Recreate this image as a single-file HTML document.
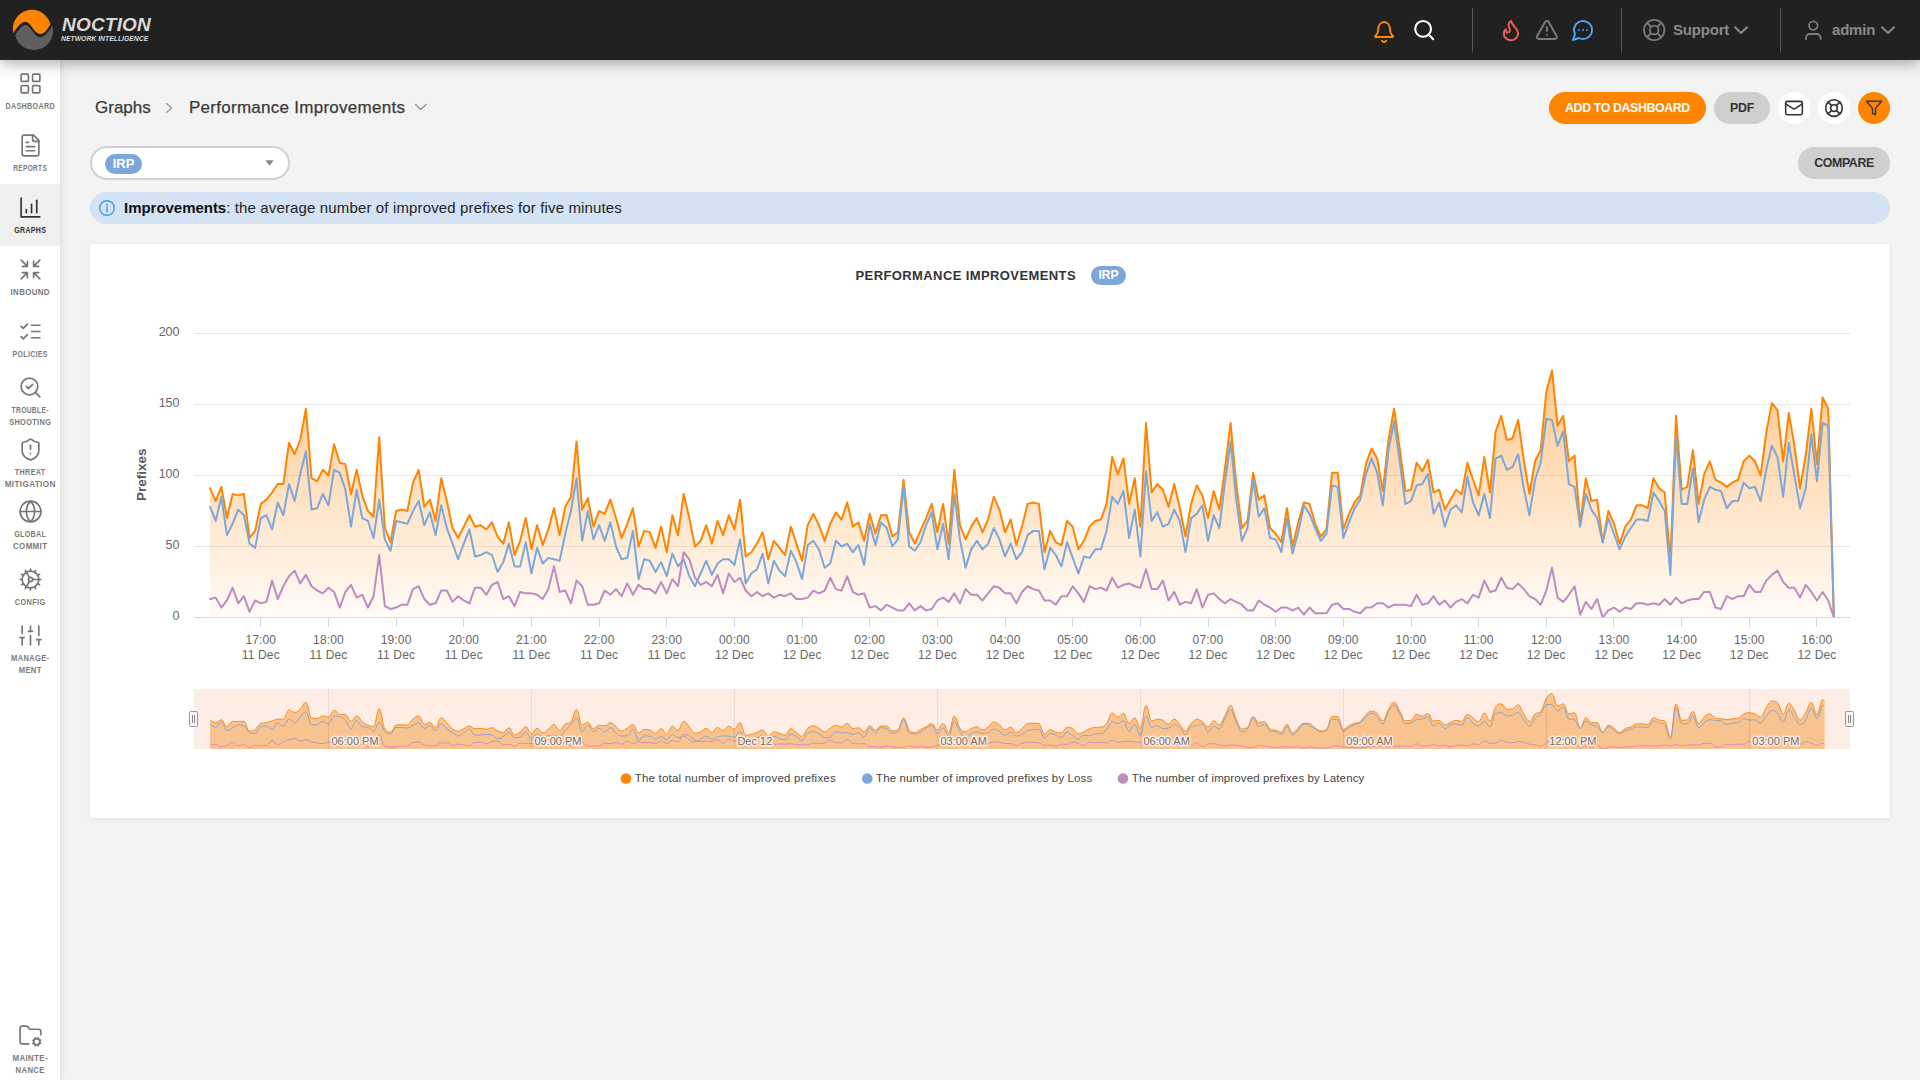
<!DOCTYPE html>
<html lang="en">
<head>
<meta charset="utf-8">
<title>Performance Improvements</title>
<style>
*{box-sizing:border-box;margin:0;padding:0}
html,body{width:1920px;height:1080px;overflow:hidden}
body{background:#f3f3f3;font-family:"Liberation Sans",sans-serif;color:#333;position:relative}
.abs{position:absolute}
#header{position:absolute;left:0;top:0;width:1920px;height:60px;background:#212121;box-shadow:0 3px 14px rgba(0,0,0,.34);z-index:5}
#sidebar{position:absolute;left:0;top:60px;width:60px;height:1020px;background:#fff;box-shadow:1px 0 6px rgba(0,0,0,.10);z-index:3}
.logo1{position:absolute;left:62px;top:14.2px;font:italic bold 19px "Liberation Sans",sans-serif;color:#d9d9d9;letter-spacing:.2px;white-space:nowrap;line-height:22px}
.logo2{position:absolute;left:61px;top:33.9px;font:italic bold 6.8px "Liberation Sans",sans-serif;color:#dcdcdc;letter-spacing:.02px;white-space:nowrap;line-height:9px}
.htxt{position:absolute;top:20px;font:bold 15px "Liberation Sans",sans-serif;letter-spacing:-.2px;color:#8a8a8a;line-height:20px;white-space:nowrap}
.nav{position:absolute;left:0;width:60px;height:62px}
.nav.act{background:#f0f0f0}
.nav svg{position:absolute;left:17.5px;width:25px;height:25px;fill:none;stroke:#767676;stroke-width:1.6;stroke-linecap:round;stroke-linejoin:round}
.nav.one svg{top:10.5px}
.nav.two svg{top:4.5px}
.nav.act svg{stroke:#333}
.nav .lb{position:absolute;left:-10px;width:80px;text-align:center;font:bold 8.6px "Liberation Sans",sans-serif;color:#7a7a7a;letter-spacing:.4px;line-height:12px;white-space:nowrap}
.nav .lb span{display:block;margin-right:-.4px}
.nav.one .lb{top:40px}
.nav.two .lb{top:34px}
.nav.act .lb{color:#333}
.bc{position:absolute;top:97px;font:17px "Liberation Sans",sans-serif;color:#3a3a3a;-webkit-text-stroke:.25px #3a3a3a;line-height:22px;white-space:nowrap}
.btn{position:absolute;height:32px;border-radius:16px;font:bold 12.4px "Liberation Sans",sans-serif;text-align:center;line-height:32px;white-space:nowrap}
.circ{position:absolute;width:32px;height:32px;border-radius:16px;top:92px}
#sel{position:absolute;left:90px;top:146px;width:200px;height:34px;border:2px solid #d0d0d0;border-radius:17px;background:#fff}
.badge{position:absolute;background:#7da7d9;color:#fff;font:bold 13px "Liberation Sans",sans-serif;text-align:center;border-radius:10px;white-space:nowrap}
#info{position:absolute;left:90px;top:192px;width:1800px;height:32px;border-radius:16px;background:#d3e3f3}
#info .t{position:absolute;left:34px;top:6px;font:15px "Liberation Sans",sans-serif;color:#222;line-height:20px;white-space:nowrap;letter-spacing:.14px}
#info .t b{color:#111;letter-spacing:-.03px}
#card{position:absolute;left:90px;top:244px;width:1800px;height:574px;background:#fff;border-radius:2px;box-shadow:0 1px 4px rgba(0,0,0,.09)}
#ctitle{position:absolute;left:855.5px;top:267.4px;font:bold 13px "Liberation Sans",sans-serif;color:#333;line-height:18px;white-space:nowrap;letter-spacing:.4px}
svg.chart{position:absolute;left:0;top:0;z-index:2}
svg.chart text{font-family:"Liberation Sans",sans-serif}
.xl{font-size:12px;fill:#666;text-anchor:middle;letter-spacing:.15px}
.yl{font-size:12.5px;fill:#666;text-anchor:end}
.yt{font-size:13.5px;font-weight:bold;fill:#585858;text-anchor:middle}
.nl{font-size:11px;fill:#7a6a62}
.lg{font-size:11.5px;fill:#444;letter-spacing:.2px}
</style>
</head>
<body>

<div id="card"></div>
<div id="ctitle">PERFORMANCE IMPROVEMENTS</div>
<div class="badge" style="left:1091px;top:266px;width:35px;height:19px;line-height:19px;font-size:12px;border-radius:9.5px">IRP</div>

<svg class="chart" width="1920" height="1080" viewBox="0 0 1920 1080">
<defs><linearGradient id="ga" gradientUnits="userSpaceOnUse" x1="0" y1="370" x2="0" y2="617.5"><stop offset="0" stop-color="#ff8400" stop-opacity="0.45"/><stop offset="1" stop-color="#ff8400" stop-opacity="0.03"/></linearGradient>
<clipPath id="pc"><rect x="194" y="330" width="1656" height="287.5"/></clipPath><clipPath id="nc"><rect x="194" y="689" width="1656" height="60"/></clipPath></defs>
<path d="M194 333.5 H1850" stroke="#e6e6e6" stroke-width="1" fill="none"/>
<path d="M194 404.5 H1850" stroke="#e6e6e6" stroke-width="1" fill="none"/>
<path d="M194 475.5 H1850" stroke="#e6e6e6" stroke-width="1" fill="none"/>
<path d="M194 546.5 H1850" stroke="#e6e6e6" stroke-width="1" fill="none"/>
<g clip-path="url(#pc)">
<path d="M210.05 488.28 L215.69 501.06 L221.33 486.86 L226.96 518.10 L232.60 493.96 L238.24 495.38 L243.88 493.96 L249.52 537.98 L255.16 530.88 L260.79 503.90 L266.43 499.64 L272.07 492.54 L277.71 484.02 L283.35 484.02 L288.99 442.84 L294.62 454.20 L300.26 440.00 L305.90 408.76 L311.54 478.34 L317.18 481.18 L322.82 469.82 L328.45 475.50 L334.09 444.26 L339.73 462.72 L345.37 464.14 L351.01 493.96 L356.65 469.82 L362.28 495.38 L367.92 511.00 L373.56 516.68 L379.20 437.16 L384.84 528.04 L390.48 542.24 L396.11 511.00 L401.75 509.58 L407.39 511.00 L413.03 482.60 L418.67 469.82 L424.31 506.74 L429.94 499.64 L435.58 520.94 L441.22 478.34 L446.86 501.06 L452.50 528.04 L458.14 537.98 L463.77 526.62 L469.41 515.26 L475.05 526.62 L480.69 525.20 L486.33 529.46 L491.97 522.36 L497.60 536.56 L503.24 543.66 L508.88 522.36 L514.52 555.02 L520.16 540.82 L525.79 518.10 L531.43 549.34 L537.07 525.20 L542.71 545.08 L548.35 529.46 L553.99 508.16 L559.62 535.14 L565.26 506.74 L570.90 496.80 L576.54 441.42 L582.18 509.58 L587.82 498.22 L593.45 526.62 L599.09 511.00 L604.73 513.84 L610.37 499.64 L616.01 518.10 L621.65 537.98 L627.28 523.78 L632.92 508.16 L638.56 546.50 L644.20 530.88 L649.84 532.30 L655.48 547.92 L661.11 526.62 L666.75 552.18 L672.39 515.26 L678.03 535.14 L683.67 493.96 L689.31 518.10 L694.94 546.50 L700.58 540.82 L706.22 525.20 L711.86 543.66 L717.50 520.94 L723.14 535.14 L728.77 515.26 L734.41 529.46 L740.05 499.64 L745.69 556.44 L751.33 552.18 L756.97 543.66 L762.60 532.30 L768.24 559.28 L773.88 540.82 L779.52 547.92 L785.16 555.02 L790.79 526.62 L796.43 543.66 L802.07 560.70 L807.71 525.20 L813.35 513.84 L818.99 525.20 L824.62 540.82 L830.26 523.78 L835.90 512.42 L841.54 519.52 L847.18 502.48 L852.82 526.62 L858.45 522.36 L864.09 540.82 L869.73 513.84 L875.37 533.72 L881.01 515.26 L886.65 515.26 L892.28 536.56 L897.92 532.30 L903.56 479.76 L909.20 532.30 L914.84 543.66 L920.48 530.88 L926.11 518.10 L931.75 503.90 L937.39 532.30 L943.03 503.90 L948.67 543.66 L954.31 469.82 L959.94 525.20 L965.58 539.40 L971.22 526.62 L976.86 518.10 L982.50 532.30 L988.14 519.52 L993.77 496.80 L999.41 509.58 L1005.05 532.30 L1010.69 519.52 L1016.33 545.08 L1021.97 526.62 L1027.60 503.90 L1033.24 502.48 L1038.88 503.90 L1044.52 552.18 L1050.16 530.88 L1055.80 542.24 L1061.43 545.08 L1067.07 520.94 L1072.71 526.62 L1078.35 549.34 L1083.99 540.82 L1089.62 526.62 L1095.26 520.94 L1100.90 519.52 L1106.54 503.90 L1112.18 457.04 L1117.82 474.08 L1123.45 458.46 L1129.09 503.90 L1134.73 478.34 L1140.37 526.62 L1146.01 422.96 L1151.65 492.54 L1157.28 484.02 L1162.92 489.70 L1168.56 506.74 L1174.20 484.02 L1179.84 508.16 L1185.48 536.56 L1191.11 503.90 L1196.75 485.44 L1202.39 495.38 L1208.03 518.10 L1213.67 491.12 L1219.31 509.58 L1224.94 468.40 L1230.58 422.96 L1236.22 484.02 L1241.86 528.04 L1247.50 520.94 L1253.14 472.66 L1258.77 499.64 L1264.41 495.38 L1270.05 528.04 L1275.69 533.72 L1281.33 542.24 L1286.97 508.16 L1292.60 546.50 L1298.24 522.36 L1303.88 502.48 L1309.52 503.90 L1315.16 523.78 L1320.80 536.56 L1326.43 529.46 L1332.07 472.66 L1337.71 472.66 L1343.35 529.46 L1348.99 513.84 L1354.62 502.48 L1360.26 495.38 L1365.90 464.14 L1371.54 448.52 L1377.18 458.46 L1382.82 491.12 L1388.45 440.00 L1394.09 408.76 L1399.73 448.52 L1405.37 491.12 L1411.01 489.70 L1416.65 462.72 L1422.28 471.24 L1427.92 459.88 L1433.56 492.54 L1439.20 489.70 L1444.84 509.58 L1450.48 499.64 L1456.11 489.70 L1461.75 493.96 L1467.39 462.72 L1473.03 479.76 L1478.67 495.38 L1484.31 457.04 L1489.94 492.54 L1495.58 431.48 L1501.22 415.86 L1506.86 440.00 L1512.50 438.58 L1518.14 420.12 L1523.77 459.88 L1529.41 493.96 L1535.05 461.30 L1540.69 449.94 L1546.33 391.72 L1551.97 370.42 L1557.60 425.80 L1563.24 415.86 L1568.88 461.30 L1574.52 455.62 L1580.16 523.78 L1585.80 478.34 L1591.43 501.06 L1597.07 499.64 L1602.71 542.24 L1608.35 511.00 L1613.99 523.78 L1619.62 543.66 L1625.26 526.62 L1630.90 519.52 L1636.54 505.32 L1642.18 505.32 L1647.82 508.16 L1653.45 478.34 L1659.09 488.28 L1664.73 492.54 L1670.37 562.12 L1676.01 415.86 L1681.65 489.70 L1687.28 486.86 L1692.92 449.94 L1698.56 503.90 L1704.20 474.08 L1709.84 461.30 L1715.48 479.76 L1721.11 482.60 L1726.75 486.86 L1732.39 482.60 L1738.03 479.76 L1743.67 461.30 L1749.31 455.62 L1754.94 461.30 L1760.58 475.50 L1766.22 432.90 L1771.86 403.08 L1777.50 410.18 L1783.14 461.30 L1788.77 413.02 L1794.41 445.68 L1800.05 488.28 L1805.69 455.62 L1811.33 408.76 L1816.97 464.14 L1822.60 397.40 L1828.24 408.76 L1833.88 617.50 L1833.88 617.5 L210.05 617.5 Z" fill="url(#ga)" stroke="none"/>
<path d="M210.05 488.28 L215.69 501.06 L221.33 486.86 L226.96 518.10 L232.60 493.96 L238.24 495.38 L243.88 493.96 L249.52 537.98 L255.16 530.88 L260.79 503.90 L266.43 499.64 L272.07 492.54 L277.71 484.02 L283.35 484.02 L288.99 442.84 L294.62 454.20 L300.26 440.00 L305.90 408.76 L311.54 478.34 L317.18 481.18 L322.82 469.82 L328.45 475.50 L334.09 444.26 L339.73 462.72 L345.37 464.14 L351.01 493.96 L356.65 469.82 L362.28 495.38 L367.92 511.00 L373.56 516.68 L379.20 437.16 L384.84 528.04 L390.48 542.24 L396.11 511.00 L401.75 509.58 L407.39 511.00 L413.03 482.60 L418.67 469.82 L424.31 506.74 L429.94 499.64 L435.58 520.94 L441.22 478.34 L446.86 501.06 L452.50 528.04 L458.14 537.98 L463.77 526.62 L469.41 515.26 L475.05 526.62 L480.69 525.20 L486.33 529.46 L491.97 522.36 L497.60 536.56 L503.24 543.66 L508.88 522.36 L514.52 555.02 L520.16 540.82 L525.79 518.10 L531.43 549.34 L537.07 525.20 L542.71 545.08 L548.35 529.46 L553.99 508.16 L559.62 535.14 L565.26 506.74 L570.90 496.80 L576.54 441.42 L582.18 509.58 L587.82 498.22 L593.45 526.62 L599.09 511.00 L604.73 513.84 L610.37 499.64 L616.01 518.10 L621.65 537.98 L627.28 523.78 L632.92 508.16 L638.56 546.50 L644.20 530.88 L649.84 532.30 L655.48 547.92 L661.11 526.62 L666.75 552.18 L672.39 515.26 L678.03 535.14 L683.67 493.96 L689.31 518.10 L694.94 546.50 L700.58 540.82 L706.22 525.20 L711.86 543.66 L717.50 520.94 L723.14 535.14 L728.77 515.26 L734.41 529.46 L740.05 499.64 L745.69 556.44 L751.33 552.18 L756.97 543.66 L762.60 532.30 L768.24 559.28 L773.88 540.82 L779.52 547.92 L785.16 555.02 L790.79 526.62 L796.43 543.66 L802.07 560.70 L807.71 525.20 L813.35 513.84 L818.99 525.20 L824.62 540.82 L830.26 523.78 L835.90 512.42 L841.54 519.52 L847.18 502.48 L852.82 526.62 L858.45 522.36 L864.09 540.82 L869.73 513.84 L875.37 533.72 L881.01 515.26 L886.65 515.26 L892.28 536.56 L897.92 532.30 L903.56 479.76 L909.20 532.30 L914.84 543.66 L920.48 530.88 L926.11 518.10 L931.75 503.90 L937.39 532.30 L943.03 503.90 L948.67 543.66 L954.31 469.82 L959.94 525.20 L965.58 539.40 L971.22 526.62 L976.86 518.10 L982.50 532.30 L988.14 519.52 L993.77 496.80 L999.41 509.58 L1005.05 532.30 L1010.69 519.52 L1016.33 545.08 L1021.97 526.62 L1027.60 503.90 L1033.24 502.48 L1038.88 503.90 L1044.52 552.18 L1050.16 530.88 L1055.80 542.24 L1061.43 545.08 L1067.07 520.94 L1072.71 526.62 L1078.35 549.34 L1083.99 540.82 L1089.62 526.62 L1095.26 520.94 L1100.90 519.52 L1106.54 503.90 L1112.18 457.04 L1117.82 474.08 L1123.45 458.46 L1129.09 503.90 L1134.73 478.34 L1140.37 526.62 L1146.01 422.96 L1151.65 492.54 L1157.28 484.02 L1162.92 489.70 L1168.56 506.74 L1174.20 484.02 L1179.84 508.16 L1185.48 536.56 L1191.11 503.90 L1196.75 485.44 L1202.39 495.38 L1208.03 518.10 L1213.67 491.12 L1219.31 509.58 L1224.94 468.40 L1230.58 422.96 L1236.22 484.02 L1241.86 528.04 L1247.50 520.94 L1253.14 472.66 L1258.77 499.64 L1264.41 495.38 L1270.05 528.04 L1275.69 533.72 L1281.33 542.24 L1286.97 508.16 L1292.60 546.50 L1298.24 522.36 L1303.88 502.48 L1309.52 503.90 L1315.16 523.78 L1320.80 536.56 L1326.43 529.46 L1332.07 472.66 L1337.71 472.66 L1343.35 529.46 L1348.99 513.84 L1354.62 502.48 L1360.26 495.38 L1365.90 464.14 L1371.54 448.52 L1377.18 458.46 L1382.82 491.12 L1388.45 440.00 L1394.09 408.76 L1399.73 448.52 L1405.37 491.12 L1411.01 489.70 L1416.65 462.72 L1422.28 471.24 L1427.92 459.88 L1433.56 492.54 L1439.20 489.70 L1444.84 509.58 L1450.48 499.64 L1456.11 489.70 L1461.75 493.96 L1467.39 462.72 L1473.03 479.76 L1478.67 495.38 L1484.31 457.04 L1489.94 492.54 L1495.58 431.48 L1501.22 415.86 L1506.86 440.00 L1512.50 438.58 L1518.14 420.12 L1523.77 459.88 L1529.41 493.96 L1535.05 461.30 L1540.69 449.94 L1546.33 391.72 L1551.97 370.42 L1557.60 425.80 L1563.24 415.86 L1568.88 461.30 L1574.52 455.62 L1580.16 523.78 L1585.80 478.34 L1591.43 501.06 L1597.07 499.64 L1602.71 542.24 L1608.35 511.00 L1613.99 523.78 L1619.62 543.66 L1625.26 526.62 L1630.90 519.52 L1636.54 505.32 L1642.18 505.32 L1647.82 508.16 L1653.45 478.34 L1659.09 488.28 L1664.73 492.54 L1670.37 562.12 L1676.01 415.86 L1681.65 489.70 L1687.28 486.86 L1692.92 449.94 L1698.56 503.90 L1704.20 474.08 L1709.84 461.30 L1715.48 479.76 L1721.11 482.60 L1726.75 486.86 L1732.39 482.60 L1738.03 479.76 L1743.67 461.30 L1749.31 455.62 L1754.94 461.30 L1760.58 475.50 L1766.22 432.90 L1771.86 403.08 L1777.50 410.18 L1783.14 461.30 L1788.77 413.02 L1794.41 445.68 L1800.05 488.28 L1805.69 455.62 L1811.33 408.76 L1816.97 464.14 L1822.60 397.40 L1828.24 408.76 L1833.88 617.50" fill="none" stroke="#ff8400" stroke-width="2" stroke-linejoin="round" stroke-linecap="round"/>
<path d="M210.05 506.74 L215.69 520.94 L221.33 496.80 L226.96 535.14 L232.60 523.78 L238.24 509.58 L243.88 515.26 L249.52 543.66 L255.16 547.92 L260.79 518.10 L266.43 515.26 L272.07 529.46 L277.71 502.48 L283.35 515.26 L288.99 484.02 L294.62 501.06 L300.26 474.08 L305.90 451.36 L311.54 509.58 L317.18 508.16 L322.82 493.96 L328.45 505.32 L334.09 469.82 L339.73 472.66 L345.37 489.70 L351.01 526.62 L356.65 489.70 L362.28 518.10 L367.92 520.94 L373.56 537.98 L379.20 499.64 L384.84 539.40 L390.48 550.76 L396.11 520.94 L401.75 522.36 L407.39 523.78 L413.03 511.00 L418.67 501.06 L424.31 525.20 L429.94 512.42 L435.58 535.14 L441.22 505.32 L446.86 528.04 L452.50 543.66 L458.14 559.28 L463.77 543.66 L469.41 529.46 L475.05 556.44 L480.69 555.02 L486.33 552.18 L491.97 555.02 L497.60 572.06 L503.24 562.12 L508.88 543.66 L514.52 566.38 L520.16 566.38 L525.79 542.24 L531.43 573.48 L537.07 547.92 L542.71 563.54 L548.35 557.86 L553.99 559.28 L559.62 560.70 L565.26 533.72 L570.90 511.00 L576.54 478.34 L582.18 540.82 L587.82 511.00 L593.45 539.40 L599.09 525.20 L604.73 540.82 L610.37 522.36 L616.01 546.50 L621.65 559.28 L627.28 557.86 L632.92 530.88 L638.56 579.16 L644.20 559.28 L649.84 560.70 L655.48 572.06 L661.11 562.12 L666.75 576.32 L672.39 553.60 L678.03 566.38 L683.67 559.28 L689.31 576.32 L694.94 586.26 L700.58 573.48 L706.22 560.70 L711.86 574.90 L717.50 563.54 L723.14 559.28 L728.77 559.28 L734.41 564.96 L740.05 539.40 L745.69 583.42 L751.33 573.48 L756.97 569.22 L762.60 553.60 L768.24 583.42 L773.88 560.70 L779.52 570.64 L785.16 576.32 L790.79 550.76 L796.43 562.12 L802.07 579.16 L807.71 545.08 L813.35 540.82 L818.99 549.34 L824.62 567.80 L830.26 563.54 L835.90 540.82 L841.54 546.50 L847.18 543.66 L852.82 552.18 L858.45 545.08 L864.09 564.96 L869.73 523.78 L875.37 545.08 L881.01 522.36 L886.65 528.04 L892.28 546.50 L897.92 539.40 L903.56 486.86 L909.20 546.50 L914.84 550.76 L920.48 542.24 L926.11 525.20 L931.75 512.42 L937.39 549.34 L943.03 523.78 L948.67 559.28 L954.31 493.96 L959.94 539.40 L965.58 567.80 L971.22 549.34 L976.86 540.82 L982.50 549.34 L988.14 543.66 L993.77 528.04 L999.41 539.40 L1005.05 556.44 L1010.69 543.66 L1016.33 559.28 L1021.97 552.18 L1027.60 535.14 L1033.24 530.88 L1038.88 530.88 L1044.52 569.22 L1050.16 547.92 L1055.80 555.02 L1061.43 566.38 L1067.07 542.24 L1072.71 557.86 L1078.35 573.48 L1083.99 556.44 L1089.62 557.86 L1095.26 549.34 L1100.90 549.34 L1106.54 530.88 L1112.18 496.80 L1117.82 503.90 L1123.45 491.12 L1129.09 537.98 L1134.73 509.58 L1140.37 556.44 L1146.01 471.24 L1151.65 520.94 L1157.28 512.42 L1162.92 526.62 L1168.56 523.78 L1174.20 509.58 L1179.84 520.94 L1185.48 552.18 L1191.11 518.10 L1196.75 513.84 L1202.39 505.32 L1208.03 540.82 L1213.67 515.26 L1219.31 528.04 L1224.94 482.60 L1230.58 441.42 L1236.22 499.64 L1241.86 540.82 L1247.50 528.04 L1253.14 479.76 L1258.77 516.68 L1264.41 508.16 L1270.05 537.98 L1275.69 539.40 L1281.33 552.18 L1286.97 518.10 L1292.60 553.60 L1298.24 532.30 L1303.88 505.32 L1309.52 513.84 L1315.16 528.04 L1320.80 540.82 L1326.43 533.72 L1332.07 485.44 L1337.71 486.86 L1343.35 537.98 L1348.99 522.36 L1354.62 508.16 L1360.26 499.64 L1365.90 474.08 L1371.54 458.46 L1377.18 472.66 L1382.82 505.32 L1388.45 449.94 L1394.09 421.54 L1399.73 461.30 L1405.37 503.90 L1411.01 501.06 L1416.65 485.44 L1422.28 484.02 L1427.92 474.08 L1433.56 513.84 L1439.20 502.48 L1444.84 526.62 L1450.48 509.58 L1456.11 505.32 L1461.75 512.42 L1467.39 476.92 L1473.03 502.48 L1478.67 515.26 L1484.31 493.96 L1489.94 518.10 L1495.58 458.46 L1501.22 455.62 L1506.86 469.82 L1512.50 466.98 L1518.14 454.20 L1523.77 488.28 L1529.41 515.26 L1535.05 479.76 L1540.69 462.72 L1546.33 418.70 L1551.97 420.12 L1557.60 445.68 L1563.24 431.48 L1568.88 484.02 L1574.52 486.86 L1580.16 526.62 L1585.80 493.96 L1591.43 509.58 L1597.07 518.10 L1602.71 542.24 L1608.35 518.10 L1613.99 533.72 L1619.62 549.34 L1625.26 536.56 L1630.90 528.04 L1636.54 519.52 L1642.18 519.52 L1647.82 520.94 L1653.45 492.54 L1659.09 501.06 L1664.73 511.00 L1670.37 574.90 L1676.01 435.74 L1681.65 503.90 L1687.28 503.90 L1692.92 468.40 L1698.56 522.36 L1704.20 499.64 L1709.84 486.86 L1715.48 489.70 L1721.11 491.12 L1726.75 508.16 L1732.39 501.06 L1738.03 501.06 L1743.67 482.60 L1749.31 488.28 L1754.94 486.86 L1760.58 501.06 L1766.22 469.82 L1771.86 445.68 L1777.50 457.04 L1783.14 496.80 L1788.77 442.84 L1794.41 475.50 L1800.05 508.16 L1805.69 488.28 L1811.33 434.32 L1816.97 481.18 L1822.60 422.96 L1828.24 425.80 L1833.88 617.50" fill="none" stroke="#7da7d9" stroke-width="2" stroke-linejoin="round" stroke-linecap="round"/>
<path d="M210.05 599.04 L215.69 597.62 L221.33 607.56 L226.96 600.46 L232.60 587.68 L238.24 603.30 L243.88 596.20 L249.52 611.82 L255.16 600.46 L260.79 603.30 L266.43 601.88 L272.07 580.58 L277.71 599.04 L283.35 586.26 L288.99 576.32 L294.62 570.64 L300.26 583.42 L305.90 574.90 L311.54 586.26 L317.18 590.52 L322.82 593.36 L328.45 587.68 L334.09 591.94 L339.73 607.56 L345.37 591.94 L351.01 584.84 L356.65 597.62 L362.28 594.78 L367.92 607.56 L373.56 596.20 L379.20 555.02 L384.84 606.14 L390.48 608.98 L396.11 607.56 L401.75 604.72 L407.39 604.72 L413.03 589.10 L418.67 586.26 L424.31 599.04 L429.94 604.72 L435.58 603.30 L441.22 590.52 L446.86 590.52 L452.50 601.88 L458.14 596.20 L463.77 600.46 L469.41 603.30 L475.05 587.68 L480.69 587.68 L486.33 594.78 L491.97 584.84 L497.60 582.00 L503.24 599.04 L508.88 596.20 L514.52 606.14 L520.16 591.94 L525.79 593.36 L531.43 593.36 L537.07 594.78 L542.71 599.04 L548.35 589.10 L553.99 566.38 L559.62 591.94 L565.26 590.52 L570.90 603.30 L576.54 580.58 L582.18 586.26 L587.82 604.72 L593.45 604.72 L599.09 603.30 L604.73 590.52 L610.37 594.78 L616.01 589.10 L621.65 596.20 L627.28 583.42 L632.92 594.78 L638.56 584.84 L644.20 589.10 L649.84 589.10 L655.48 593.36 L661.11 582.00 L666.75 593.36 L672.39 579.16 L678.03 586.26 L683.67 552.18 L689.31 559.28 L694.94 577.74 L700.58 584.84 L706.22 582.00 L711.86 586.26 L717.50 574.90 L723.14 593.36 L728.77 573.48 L734.41 582.00 L740.05 577.74 L745.69 590.52 L751.33 596.20 L756.97 591.94 L762.60 596.20 L768.24 593.36 L773.88 597.62 L779.52 594.78 L785.16 596.20 L790.79 593.36 L796.43 599.04 L802.07 599.04 L807.71 597.62 L813.35 590.52 L818.99 593.36 L824.62 590.52 L830.26 577.74 L835.90 589.10 L841.54 590.52 L847.18 576.32 L852.82 591.94 L858.45 594.78 L864.09 593.36 L869.73 607.56 L875.37 606.14 L881.01 610.40 L886.65 604.72 L892.28 607.56 L897.92 610.40 L903.56 610.40 L909.20 603.30 L914.84 610.40 L920.48 606.14 L926.11 610.40 L931.75 608.98 L937.39 600.46 L943.03 597.62 L948.67 601.88 L954.31 593.36 L959.94 603.30 L965.58 589.10 L971.22 594.78 L976.86 594.78 L982.50 600.46 L988.14 593.36 L993.77 586.26 L999.41 587.68 L1005.05 593.36 L1010.69 593.36 L1016.33 603.30 L1021.97 591.94 L1027.60 586.26 L1033.24 589.10 L1038.88 590.52 L1044.52 600.46 L1050.16 600.46 L1055.80 604.72 L1061.43 596.20 L1067.07 596.20 L1072.71 586.26 L1078.35 593.36 L1083.99 601.88 L1089.62 586.26 L1095.26 589.10 L1100.90 587.68 L1106.54 590.52 L1112.18 577.74 L1117.82 587.68 L1123.45 584.84 L1129.09 583.42 L1134.73 586.26 L1140.37 587.68 L1146.01 569.22 L1151.65 589.10 L1157.28 589.10 L1162.92 580.58 L1168.56 600.46 L1174.20 591.94 L1179.84 604.72 L1185.48 601.88 L1191.11 603.30 L1196.75 589.10 L1202.39 607.56 L1208.03 594.78 L1213.67 593.36 L1219.31 599.04 L1224.94 603.30 L1230.58 599.04 L1236.22 601.88 L1241.86 604.72 L1247.50 610.40 L1253.14 610.40 L1258.77 600.46 L1264.41 604.72 L1270.05 607.56 L1275.69 611.82 L1281.33 607.56 L1286.97 607.56 L1292.60 610.40 L1298.24 607.56 L1303.88 614.66 L1309.52 607.56 L1315.16 613.24 L1320.80 613.24 L1326.43 613.24 L1332.07 604.72 L1337.71 603.30 L1343.35 608.98 L1348.99 608.98 L1354.62 611.82 L1360.26 613.24 L1365.90 607.56 L1371.54 607.56 L1377.18 603.30 L1382.82 603.30 L1388.45 607.56 L1394.09 604.72 L1399.73 604.72 L1405.37 604.72 L1411.01 606.14 L1416.65 594.78 L1422.28 604.72 L1427.92 603.30 L1433.56 596.20 L1439.20 604.72 L1444.84 600.46 L1450.48 607.56 L1456.11 601.88 L1461.75 599.04 L1467.39 603.30 L1473.03 594.78 L1478.67 597.62 L1484.31 580.58 L1489.94 591.94 L1495.58 590.52 L1501.22 577.74 L1506.86 587.68 L1512.50 589.10 L1518.14 583.42 L1523.77 589.10 L1529.41 596.20 L1535.05 599.04 L1540.69 604.72 L1546.33 590.52 L1551.97 567.80 L1557.60 597.62 L1563.24 601.88 L1568.88 594.78 L1574.52 586.26 L1580.16 614.66 L1585.80 601.88 L1591.43 608.98 L1597.07 599.04 L1602.71 617.50 L1608.35 610.40 L1613.99 607.56 L1619.62 611.82 L1625.26 607.56 L1630.90 608.98 L1636.54 603.30 L1642.18 603.30 L1647.82 604.72 L1653.45 603.30 L1659.09 604.72 L1664.73 599.04 L1670.37 604.72 L1676.01 597.62 L1681.65 603.30 L1687.28 600.46 L1692.92 599.04 L1698.56 599.04 L1704.20 591.94 L1709.84 591.94 L1715.48 607.56 L1721.11 608.98 L1726.75 596.20 L1732.39 599.04 L1738.03 596.20 L1743.67 596.20 L1749.31 584.84 L1754.94 591.94 L1760.58 591.94 L1766.22 580.58 L1771.86 574.90 L1777.50 570.64 L1783.14 582.00 L1788.77 587.68 L1794.41 587.68 L1800.05 597.62 L1805.69 584.84 L1811.33 591.94 L1816.97 600.46 L1822.60 591.94 L1828.24 600.46 L1833.88 617.50" fill="none" stroke="#bd8cbf" stroke-width="2" stroke-linejoin="round" stroke-linecap="round"/>
</g>
<path d="M194 617.5 H1850" stroke="#ccd6eb" stroke-width="1" fill="none"/>
<path d="M260.5 617.5 V627" stroke="#ccd6eb" stroke-width="1" fill="none"/>
<text x="260.8" y="644.4" class="xl">17:00</text><text x="260.8" y="659.2" class="xl">11 Dec</text>
<path d="M328.5 617.5 V627" stroke="#ccd6eb" stroke-width="1" fill="none"/>
<text x="328.5" y="644.4" class="xl">18:00</text><text x="328.5" y="659.2" class="xl">11 Dec</text>
<path d="M396.5 617.5 V627" stroke="#ccd6eb" stroke-width="1" fill="none"/>
<text x="396.1" y="644.4" class="xl">19:00</text><text x="396.1" y="659.2" class="xl">11 Dec</text>
<path d="M463.5 617.5 V627" stroke="#ccd6eb" stroke-width="1" fill="none"/>
<text x="463.8" y="644.4" class="xl">20:00</text><text x="463.8" y="659.2" class="xl">11 Dec</text>
<path d="M531.5 617.5 V627" stroke="#ccd6eb" stroke-width="1" fill="none"/>
<text x="531.4" y="644.4" class="xl">21:00</text><text x="531.4" y="659.2" class="xl">11 Dec</text>
<path d="M599.5 617.5 V627" stroke="#ccd6eb" stroke-width="1" fill="none"/>
<text x="599.1" y="644.4" class="xl">22:00</text><text x="599.1" y="659.2" class="xl">11 Dec</text>
<path d="M666.5 617.5 V627" stroke="#ccd6eb" stroke-width="1" fill="none"/>
<text x="666.8" y="644.4" class="xl">23:00</text><text x="666.8" y="659.2" class="xl">11 Dec</text>
<path d="M734.5 617.5 V627" stroke="#ccd6eb" stroke-width="1" fill="none"/>
<text x="734.4" y="644.4" class="xl">00:00</text><text x="734.4" y="659.2" class="xl">12 Dec</text>
<path d="M802.5 617.5 V627" stroke="#ccd6eb" stroke-width="1" fill="none"/>
<text x="802.1" y="644.4" class="xl">01:00</text><text x="802.1" y="659.2" class="xl">12 Dec</text>
<path d="M869.5 617.5 V627" stroke="#ccd6eb" stroke-width="1" fill="none"/>
<text x="869.7" y="644.4" class="xl">02:00</text><text x="869.7" y="659.2" class="xl">12 Dec</text>
<path d="M937.5 617.5 V627" stroke="#ccd6eb" stroke-width="1" fill="none"/>
<text x="937.4" y="644.4" class="xl">03:00</text><text x="937.4" y="659.2" class="xl">12 Dec</text>
<path d="M1005.5 617.5 V627" stroke="#ccd6eb" stroke-width="1" fill="none"/>
<text x="1005.1" y="644.4" class="xl">04:00</text><text x="1005.1" y="659.2" class="xl">12 Dec</text>
<path d="M1072.5 617.5 V627" stroke="#ccd6eb" stroke-width="1" fill="none"/>
<text x="1072.7" y="644.4" class="xl">05:00</text><text x="1072.7" y="659.2" class="xl">12 Dec</text>
<path d="M1140.5 617.5 V627" stroke="#ccd6eb" stroke-width="1" fill="none"/>
<text x="1140.4" y="644.4" class="xl">06:00</text><text x="1140.4" y="659.2" class="xl">12 Dec</text>
<path d="M1208.5 617.5 V627" stroke="#ccd6eb" stroke-width="1" fill="none"/>
<text x="1208.0" y="644.4" class="xl">07:00</text><text x="1208.0" y="659.2" class="xl">12 Dec</text>
<path d="M1275.5 617.5 V627" stroke="#ccd6eb" stroke-width="1" fill="none"/>
<text x="1275.7" y="644.4" class="xl">08:00</text><text x="1275.7" y="659.2" class="xl">12 Dec</text>
<path d="M1343.5 617.5 V627" stroke="#ccd6eb" stroke-width="1" fill="none"/>
<text x="1343.3" y="644.4" class="xl">09:00</text><text x="1343.3" y="659.2" class="xl">12 Dec</text>
<path d="M1411.5 617.5 V627" stroke="#ccd6eb" stroke-width="1" fill="none"/>
<text x="1411.0" y="644.4" class="xl">10:00</text><text x="1411.0" y="659.2" class="xl">12 Dec</text>
<path d="M1478.5 617.5 V627" stroke="#ccd6eb" stroke-width="1" fill="none"/>
<text x="1478.7" y="644.4" class="xl">11:00</text><text x="1478.7" y="659.2" class="xl">12 Dec</text>
<path d="M1546.5 617.5 V627" stroke="#ccd6eb" stroke-width="1" fill="none"/>
<text x="1546.3" y="644.4" class="xl">12:00</text><text x="1546.3" y="659.2" class="xl">12 Dec</text>
<path d="M1613.5 617.5 V627" stroke="#ccd6eb" stroke-width="1" fill="none"/>
<text x="1614.0" y="644.4" class="xl">13:00</text><text x="1614.0" y="659.2" class="xl">12 Dec</text>
<path d="M1681.5 617.5 V627" stroke="#ccd6eb" stroke-width="1" fill="none"/>
<text x="1681.6" y="644.4" class="xl">14:00</text><text x="1681.6" y="659.2" class="xl">12 Dec</text>
<path d="M1749.5 617.5 V627" stroke="#ccd6eb" stroke-width="1" fill="none"/>
<text x="1749.3" y="644.4" class="xl">15:00</text><text x="1749.3" y="659.2" class="xl">12 Dec</text>
<path d="M1816.5 617.5 V627" stroke="#ccd6eb" stroke-width="1" fill="none"/>
<text x="1817.0" y="644.4" class="xl">16:00</text><text x="1817.0" y="659.2" class="xl">12 Dec</text>
<text x="179.5" y="336.1" class="yl">200</text>
<text x="179.5" y="407.1" class="yl">150</text>
<text x="179.5" y="478.1" class="yl">100</text>
<text x="179.5" y="549.1" class="yl">50</text>
<text x="179.5" y="620.1" class="yl">0</text>
<text transform="translate(146.3 474.8) rotate(-90)" class="yt">Prefixes</text>
<rect x="194" y="689" width="1656" height="60" fill="#feede5"/>
<g clip-path="url(#nc)">
<path d="M210.05 720.06 C210.05 720.06 213.43 722.92 215.69 722.92 C217.94 722.92 219.07 719.74 221.33 719.74 C223.58 719.74 224.71 726.74 226.96 726.74 C229.22 726.74 230.35 721.33 232.60 721.33 C234.86 721.33 235.99 721.65 238.24 721.65 C240.50 721.65 241.62 721.33 243.88 721.33 C246.14 721.33 247.26 731.19 249.52 731.19 C251.77 731.19 252.90 731.13 255.16 729.60 C257.41 728.08 258.54 724.51 260.79 723.56 C263.05 722.61 264.18 723.11 266.43 722.61 C268.69 722.10 269.82 721.72 272.07 721.02 C274.33 720.32 275.45 719.11 277.71 719.11 C279.96 719.11 281.09 719.11 283.35 719.11 C285.60 719.11 286.73 709.89 288.99 709.89 C291.24 709.89 292.37 712.43 294.62 712.43 C296.88 712.43 298.01 711.29 300.26 709.25 C302.52 707.21 303.65 702.25 305.90 702.25 C308.16 702.25 309.28 717.20 311.54 717.84 C313.79 718.47 314.92 718.47 317.18 718.47 C319.43 718.47 320.56 715.93 322.82 715.93 C325.07 715.93 326.20 717.20 328.45 717.20 C330.71 717.20 331.84 710.20 334.09 710.20 C336.35 710.20 337.48 714.02 339.73 714.34 C341.99 714.66 343.11 714.34 345.37 714.66 C347.62 714.97 348.75 721.33 351.01 721.33 C353.26 721.33 354.39 715.93 356.65 715.93 C358.90 715.93 360.03 719.81 362.28 721.65 C364.54 723.50 365.67 724.20 367.92 725.15 C370.18 726.10 371.31 726.42 373.56 726.42 C375.82 726.42 376.94 708.61 379.20 708.61 C381.45 708.61 382.58 725.79 384.84 728.97 C387.09 732.15 388.22 732.15 390.48 732.15 C392.73 732.15 393.86 725.47 396.11 725.15 C398.37 724.83 399.50 724.83 401.75 724.83 C404.01 724.83 405.14 725.15 407.39 725.15 C409.65 725.15 410.77 720.63 413.03 718.79 C415.28 716.95 416.41 715.93 418.67 715.93 C420.92 715.93 422.05 724.20 424.31 724.20 C426.56 724.20 427.69 722.61 429.94 722.61 C432.20 722.61 433.33 727.38 435.58 727.38 C437.84 727.38 438.96 717.84 441.22 717.84 C443.48 717.84 444.60 720.70 446.86 722.92 C449.11 725.15 450.24 727.31 452.50 728.97 C454.75 730.62 455.88 731.19 458.14 731.19 C460.39 731.19 461.52 729.67 463.77 728.65 C466.03 727.63 467.16 726.10 469.41 726.10 C471.67 726.10 472.79 728.65 475.05 728.65 C477.31 728.65 478.43 728.33 480.69 728.33 C482.94 728.33 484.07 729.28 486.33 729.28 C488.58 729.28 489.71 727.69 491.97 727.69 C494.22 727.69 495.35 729.92 497.60 730.87 C499.86 731.83 500.99 732.46 503.24 732.46 C505.50 732.46 506.62 727.69 508.88 727.69 C511.14 727.69 512.26 735.01 514.52 735.01 C516.77 735.01 517.90 733.48 520.16 731.83 C522.41 730.17 523.54 726.74 525.79 726.74 C528.05 726.74 529.18 733.74 531.43 733.74 C533.69 733.74 534.82 728.33 537.07 728.33 C539.33 728.33 540.45 732.78 542.71 732.78 C544.97 732.78 546.09 730.94 548.35 729.28 C550.60 727.63 551.73 724.51 553.99 724.51 C556.24 724.51 557.37 730.56 559.62 730.56 C561.88 730.56 563.01 725.91 565.26 724.20 C567.52 722.48 568.65 724.20 570.90 721.97 C573.16 719.74 574.28 709.57 576.54 709.57 C578.79 709.57 579.92 724.83 582.18 724.83 C584.43 724.83 585.56 722.29 587.82 722.29 C590.07 722.29 591.20 728.65 593.45 728.65 C595.71 728.65 596.84 725.15 599.09 725.15 C601.35 725.15 602.48 725.79 604.73 725.79 C606.99 725.79 608.11 722.61 610.37 722.61 C612.62 722.61 613.75 725.02 616.01 726.74 C618.26 728.46 619.39 731.19 621.65 731.19 C623.90 731.19 625.03 729.35 627.28 728.01 C629.54 726.68 630.67 724.51 632.92 724.51 C635.18 724.51 636.31 733.10 638.56 733.10 C640.82 733.10 641.94 729.60 644.20 729.60 C646.45 729.60 647.58 729.60 649.84 729.92 C652.09 730.24 653.22 733.42 655.48 733.42 C657.73 733.42 658.86 728.65 661.11 728.65 C663.37 728.65 664.50 734.37 666.75 734.37 C669.01 734.37 670.14 726.10 672.39 726.10 C674.65 726.10 675.77 730.56 678.03 730.56 C680.28 730.56 681.41 721.33 683.67 721.33 C685.92 721.33 687.05 724.39 689.31 726.74 C691.56 729.09 692.69 733.10 694.94 733.10 C697.20 733.10 698.33 732.78 700.58 731.83 C702.84 730.87 703.97 728.33 706.22 728.33 C708.48 728.33 709.60 732.46 711.86 732.46 C714.11 732.46 715.24 727.38 717.50 727.38 C719.75 727.38 720.88 730.56 723.14 730.56 C725.39 730.56 726.52 726.10 728.77 726.10 C731.03 726.10 732.16 729.28 734.41 729.28 C736.67 729.28 737.79 722.61 740.05 722.61 C742.31 722.61 743.43 735.33 745.69 735.33 C747.94 735.33 749.07 734.94 751.33 734.37 C753.58 733.80 754.71 733.35 756.97 732.46 C759.22 731.57 760.35 729.92 762.60 729.92 C764.86 729.92 765.99 735.96 768.24 735.96 C770.50 735.96 771.62 731.83 773.88 731.83 C776.14 731.83 777.26 732.78 779.52 733.42 C781.77 734.05 782.90 735.01 785.16 735.01 C787.41 735.01 788.54 728.65 790.79 728.65 C793.05 728.65 794.18 730.94 796.43 732.46 C798.69 733.99 799.82 736.28 802.07 736.28 C804.33 736.28 805.45 730.43 807.71 728.33 C809.97 726.23 811.09 725.79 813.35 725.79 C815.60 725.79 816.73 727.12 818.99 728.33 C821.24 729.54 822.37 731.83 824.62 731.83 C826.88 731.83 828.01 729.28 830.26 728.01 C832.52 726.74 833.65 725.47 835.90 725.47 C838.16 725.47 839.28 727.06 841.54 727.06 C843.79 727.06 844.92 723.24 847.18 723.24 C849.43 723.24 850.56 728.65 852.82 728.65 C855.07 728.65 856.20 727.69 858.45 727.69 C860.71 727.69 861.84 731.83 864.09 731.83 C866.35 731.83 867.48 725.79 869.73 725.79 C871.99 725.79 873.11 730.24 875.37 730.24 C877.62 730.24 878.75 726.10 881.01 726.10 C883.26 726.10 884.39 726.10 886.65 726.10 C888.90 726.10 890.03 730.87 892.28 730.87 C894.54 730.87 895.67 730.87 897.92 729.92 C900.18 728.97 901.31 718.15 903.56 718.15 C905.82 718.15 906.94 727.38 909.20 729.92 C911.45 732.46 912.58 732.46 914.84 732.46 C917.09 732.46 918.22 730.75 920.48 729.60 C922.73 728.46 923.86 727.95 926.11 726.74 C928.37 725.53 929.50 723.56 931.75 723.56 C934.01 723.56 935.14 729.92 937.39 729.92 C939.65 729.92 940.77 723.56 943.03 723.56 C945.28 723.56 946.41 732.46 948.67 732.46 C950.92 732.46 952.05 715.93 954.31 715.93 C956.56 715.93 957.69 725.21 959.94 728.33 C962.20 731.45 963.33 731.51 965.58 731.51 C967.84 731.51 968.97 729.60 971.22 728.65 C973.48 727.69 974.60 726.74 976.86 726.74 C979.11 726.74 980.24 729.92 982.50 729.92 C984.75 729.92 985.88 728.65 988.14 727.06 C990.39 725.47 991.52 721.97 993.77 721.97 C996.03 721.97 997.16 723.24 999.41 724.83 C1001.67 726.42 1002.79 729.92 1005.05 729.92 C1007.31 729.92 1008.43 727.06 1010.69 727.06 C1012.94 727.06 1014.07 732.78 1016.33 732.78 C1018.58 732.78 1019.71 730.49 1021.97 728.65 C1024.22 726.80 1025.35 723.88 1027.60 723.56 C1029.86 723.24 1030.99 723.24 1033.24 723.24 C1035.50 723.24 1036.62 723.24 1038.88 723.56 C1041.14 723.88 1042.26 734.37 1044.52 734.37 C1046.77 734.37 1047.90 729.60 1050.16 729.60 C1052.41 729.60 1053.54 731.51 1055.80 732.15 C1058.05 732.78 1059.18 732.78 1061.43 732.78 C1063.69 732.78 1064.82 727.38 1067.07 727.38 C1069.33 727.38 1070.45 727.38 1072.71 728.65 C1074.97 729.92 1076.09 733.74 1078.35 733.74 C1080.60 733.74 1081.73 732.85 1083.99 731.83 C1086.24 730.81 1087.37 729.54 1089.62 728.65 C1091.88 727.76 1093.01 727.69 1095.26 727.38 C1097.52 727.06 1098.65 727.38 1100.90 727.06 C1103.16 726.74 1104.28 726.36 1106.54 723.56 C1108.80 720.76 1109.92 713.07 1112.18 713.07 C1114.43 713.07 1115.56 716.88 1117.82 716.88 C1120.07 716.88 1121.20 713.38 1123.45 713.38 C1125.71 713.38 1126.84 723.56 1129.09 723.56 C1131.35 723.56 1132.48 717.84 1134.73 717.84 C1136.99 717.84 1138.11 728.65 1140.37 728.65 C1142.62 728.65 1143.75 705.43 1146.01 705.43 C1148.26 705.43 1149.39 721.02 1151.65 721.02 C1153.90 721.02 1155.03 719.11 1157.28 719.11 C1159.54 719.11 1160.67 719.36 1162.92 720.38 C1165.18 721.40 1166.31 724.20 1168.56 724.20 C1170.82 724.20 1171.94 719.11 1174.20 719.11 C1176.45 719.11 1177.58 722.16 1179.84 724.51 C1182.09 726.87 1183.22 730.87 1185.48 730.87 C1187.73 730.87 1188.86 725.85 1191.11 723.56 C1193.37 721.27 1194.50 719.43 1196.75 719.43 C1199.01 719.43 1200.14 720.19 1202.39 721.65 C1204.65 723.11 1205.77 726.74 1208.03 726.74 C1210.28 726.74 1211.41 720.70 1213.67 720.70 C1215.92 720.70 1217.05 724.83 1219.31 724.83 C1221.56 724.83 1222.69 719.49 1224.94 715.61 C1227.20 711.73 1228.33 705.43 1230.58 705.43 C1232.84 705.43 1233.97 714.40 1236.22 719.11 C1238.48 723.81 1239.60 728.97 1241.86 728.97 C1244.11 728.97 1245.24 728.97 1247.50 727.38 C1249.75 725.79 1250.88 716.56 1253.14 716.56 C1255.39 716.56 1256.52 722.61 1258.77 722.61 C1261.03 722.61 1262.16 721.65 1264.41 721.65 C1266.67 721.65 1267.80 727.69 1270.05 728.97 C1272.31 730.24 1273.43 729.60 1275.69 730.24 C1277.94 730.87 1279.07 732.15 1281.33 732.15 C1283.58 732.15 1284.71 724.51 1286.97 724.51 C1289.22 724.51 1290.35 733.10 1292.60 733.10 C1294.86 733.10 1295.99 729.67 1298.24 727.69 C1300.50 725.72 1301.62 723.24 1303.88 723.24 C1306.14 723.24 1307.26 723.24 1309.52 723.56 C1311.77 723.88 1312.90 726.55 1315.16 728.01 C1317.41 729.47 1318.54 730.87 1320.80 730.87 C1323.05 730.87 1324.18 730.87 1326.43 729.28 C1328.69 727.69 1329.82 716.56 1332.07 716.56 C1334.33 716.56 1335.45 716.56 1337.71 716.56 C1339.97 716.56 1341.09 729.28 1343.35 729.28 C1345.60 729.28 1346.73 726.99 1348.99 725.79 C1351.24 724.58 1352.37 724.07 1354.62 723.24 C1356.88 722.42 1358.01 723.24 1360.26 721.65 C1362.52 720.06 1363.65 716.75 1365.90 714.66 C1368.16 712.56 1369.28 711.16 1371.54 711.16 C1373.80 711.16 1374.92 711.48 1377.18 713.38 C1379.43 715.29 1380.56 720.70 1382.82 720.70 C1385.07 720.70 1386.20 712.94 1388.45 709.25 C1390.71 705.56 1391.84 702.25 1394.09 702.25 C1396.35 702.25 1397.48 707.47 1399.73 711.16 C1401.99 714.85 1403.11 720.70 1405.37 720.70 C1407.62 720.70 1408.75 720.70 1411.01 720.38 C1413.26 720.06 1414.39 714.34 1416.65 714.34 C1418.90 714.34 1420.03 716.25 1422.28 716.25 C1424.54 716.25 1425.67 713.70 1427.92 713.70 C1430.18 713.70 1431.31 721.02 1433.56 721.02 C1435.82 721.02 1436.94 720.38 1439.20 720.38 C1441.45 720.38 1442.58 724.83 1444.84 724.83 C1447.09 724.83 1448.22 723.50 1450.48 722.61 C1452.73 721.72 1453.86 720.38 1456.11 720.38 C1458.37 720.38 1459.50 721.33 1461.75 721.33 C1464.01 721.33 1465.14 714.34 1467.39 714.34 C1469.65 714.34 1470.77 716.69 1473.03 718.15 C1475.28 719.62 1476.41 721.65 1478.67 721.65 C1480.92 721.65 1482.05 713.07 1484.31 713.07 C1486.56 713.07 1487.69 721.02 1489.94 721.02 C1492.20 721.02 1493.33 710.78 1495.58 707.34 C1497.84 703.91 1498.97 703.84 1501.22 703.84 C1503.48 703.84 1504.60 709.25 1506.86 709.25 C1509.11 709.25 1510.24 709.25 1512.50 708.93 C1514.75 708.61 1515.88 704.80 1518.14 704.80 C1520.39 704.80 1521.52 710.39 1523.77 713.70 C1526.03 717.01 1527.16 721.33 1529.41 721.33 C1531.67 721.33 1532.80 715.99 1535.05 714.02 C1537.31 712.05 1538.43 714.02 1540.69 711.48 C1542.94 708.93 1544.07 702.00 1546.33 698.44 C1548.58 694.88 1549.71 693.67 1551.97 693.67 C1554.22 693.67 1555.35 706.07 1557.60 706.07 C1559.86 706.07 1560.99 703.84 1563.24 703.84 C1565.50 703.84 1566.62 714.02 1568.88 714.02 C1571.14 714.02 1572.26 712.75 1574.52 712.75 C1576.77 712.75 1577.90 728.01 1580.16 728.01 C1582.41 728.01 1583.54 717.84 1585.80 717.84 C1588.05 717.84 1589.18 722.92 1591.43 722.92 C1593.69 722.92 1594.82 722.61 1597.07 722.61 C1599.33 722.61 1600.45 732.15 1602.71 732.15 C1604.97 732.15 1606.09 725.15 1608.35 725.15 C1610.60 725.15 1611.73 726.55 1613.99 728.01 C1616.24 729.47 1617.37 732.46 1619.62 732.46 C1621.88 732.46 1623.01 729.73 1625.26 728.65 C1627.52 727.57 1628.65 728.01 1630.90 727.06 C1633.16 726.10 1634.28 723.88 1636.54 723.88 C1638.80 723.88 1639.92 723.88 1642.18 723.88 C1644.43 723.88 1645.56 724.51 1647.82 724.51 C1650.07 724.51 1651.20 717.84 1653.45 717.84 C1655.71 717.84 1656.84 719.43 1659.09 720.06 C1661.35 720.70 1662.48 720.06 1664.73 721.02 C1666.99 721.97 1668.11 736.60 1670.37 736.60 C1672.63 736.60 1673.75 703.84 1676.01 703.84 C1678.26 703.84 1679.39 720.38 1681.65 720.38 C1683.90 720.38 1685.03 720.38 1687.28 719.74 C1689.54 719.11 1690.67 711.48 1692.92 711.48 C1695.18 711.48 1696.31 723.56 1698.56 723.56 C1700.82 723.56 1701.94 718.79 1704.20 716.88 C1706.45 714.97 1707.58 714.02 1709.84 714.02 C1712.09 714.02 1713.22 717.52 1715.48 718.15 C1717.73 718.79 1718.86 718.47 1721.11 718.79 C1723.37 719.11 1724.50 719.74 1726.75 719.74 C1729.01 719.74 1730.14 719.11 1732.39 718.79 C1734.65 718.47 1735.77 718.79 1738.03 718.15 C1740.28 717.52 1741.41 715.10 1743.67 714.02 C1745.92 712.94 1747.05 712.75 1749.31 712.75 C1751.56 712.75 1752.69 713.13 1754.94 714.02 C1757.20 714.91 1758.33 717.20 1760.58 717.20 C1762.84 717.20 1763.97 710.90 1766.22 707.66 C1768.48 704.42 1769.60 700.98 1771.86 700.98 C1774.11 700.98 1775.24 700.98 1777.50 702.57 C1779.75 704.16 1780.88 714.02 1783.14 714.02 C1785.39 714.02 1786.52 703.21 1788.77 703.21 C1791.03 703.21 1792.16 707.15 1794.41 710.52 C1796.67 713.89 1797.80 720.06 1800.05 720.06 C1802.31 720.06 1803.43 716.31 1805.69 712.75 C1807.94 709.19 1809.07 702.25 1811.33 702.25 C1813.58 702.25 1814.71 714.66 1816.97 714.66 C1819.22 714.66 1820.35 699.71 1822.60 699.71 C1823.40 699.71 1824.60 700.73 1824.60 700.73 L1824.6 749.0 L210.05 749.0 Z" fill="#f9c38f" stroke="none"/>
<path d="M210.05 720.06 C210.05 720.06 213.43 722.92 215.69 722.92 C217.94 722.92 219.07 719.74 221.33 719.74 C223.58 719.74 224.71 726.74 226.96 726.74 C229.22 726.74 230.35 721.33 232.60 721.33 C234.86 721.33 235.99 721.65 238.24 721.65 C240.50 721.65 241.62 721.33 243.88 721.33 C246.14 721.33 247.26 731.19 249.52 731.19 C251.77 731.19 252.90 731.13 255.16 729.60 C257.41 728.08 258.54 724.51 260.79 723.56 C263.05 722.61 264.18 723.11 266.43 722.61 C268.69 722.10 269.82 721.72 272.07 721.02 C274.33 720.32 275.45 719.11 277.71 719.11 C279.96 719.11 281.09 719.11 283.35 719.11 C285.60 719.11 286.73 709.89 288.99 709.89 C291.24 709.89 292.37 712.43 294.62 712.43 C296.88 712.43 298.01 711.29 300.26 709.25 C302.52 707.21 303.65 702.25 305.90 702.25 C308.16 702.25 309.28 717.20 311.54 717.84 C313.79 718.47 314.92 718.47 317.18 718.47 C319.43 718.47 320.56 715.93 322.82 715.93 C325.07 715.93 326.20 717.20 328.45 717.20 C330.71 717.20 331.84 710.20 334.09 710.20 C336.35 710.20 337.48 714.02 339.73 714.34 C341.99 714.66 343.11 714.34 345.37 714.66 C347.62 714.97 348.75 721.33 351.01 721.33 C353.26 721.33 354.39 715.93 356.65 715.93 C358.90 715.93 360.03 719.81 362.28 721.65 C364.54 723.50 365.67 724.20 367.92 725.15 C370.18 726.10 371.31 726.42 373.56 726.42 C375.82 726.42 376.94 708.61 379.20 708.61 C381.45 708.61 382.58 725.79 384.84 728.97 C387.09 732.15 388.22 732.15 390.48 732.15 C392.73 732.15 393.86 725.47 396.11 725.15 C398.37 724.83 399.50 724.83 401.75 724.83 C404.01 724.83 405.14 725.15 407.39 725.15 C409.65 725.15 410.77 720.63 413.03 718.79 C415.28 716.95 416.41 715.93 418.67 715.93 C420.92 715.93 422.05 724.20 424.31 724.20 C426.56 724.20 427.69 722.61 429.94 722.61 C432.20 722.61 433.33 727.38 435.58 727.38 C437.84 727.38 438.96 717.84 441.22 717.84 C443.48 717.84 444.60 720.70 446.86 722.92 C449.11 725.15 450.24 727.31 452.50 728.97 C454.75 730.62 455.88 731.19 458.14 731.19 C460.39 731.19 461.52 729.67 463.77 728.65 C466.03 727.63 467.16 726.10 469.41 726.10 C471.67 726.10 472.79 728.65 475.05 728.65 C477.31 728.65 478.43 728.33 480.69 728.33 C482.94 728.33 484.07 729.28 486.33 729.28 C488.58 729.28 489.71 727.69 491.97 727.69 C494.22 727.69 495.35 729.92 497.60 730.87 C499.86 731.83 500.99 732.46 503.24 732.46 C505.50 732.46 506.62 727.69 508.88 727.69 C511.14 727.69 512.26 735.01 514.52 735.01 C516.77 735.01 517.90 733.48 520.16 731.83 C522.41 730.17 523.54 726.74 525.79 726.74 C528.05 726.74 529.18 733.74 531.43 733.74 C533.69 733.74 534.82 728.33 537.07 728.33 C539.33 728.33 540.45 732.78 542.71 732.78 C544.97 732.78 546.09 730.94 548.35 729.28 C550.60 727.63 551.73 724.51 553.99 724.51 C556.24 724.51 557.37 730.56 559.62 730.56 C561.88 730.56 563.01 725.91 565.26 724.20 C567.52 722.48 568.65 724.20 570.90 721.97 C573.16 719.74 574.28 709.57 576.54 709.57 C578.79 709.57 579.92 724.83 582.18 724.83 C584.43 724.83 585.56 722.29 587.82 722.29 C590.07 722.29 591.20 728.65 593.45 728.65 C595.71 728.65 596.84 725.15 599.09 725.15 C601.35 725.15 602.48 725.79 604.73 725.79 C606.99 725.79 608.11 722.61 610.37 722.61 C612.62 722.61 613.75 725.02 616.01 726.74 C618.26 728.46 619.39 731.19 621.65 731.19 C623.90 731.19 625.03 729.35 627.28 728.01 C629.54 726.68 630.67 724.51 632.92 724.51 C635.18 724.51 636.31 733.10 638.56 733.10 C640.82 733.10 641.94 729.60 644.20 729.60 C646.45 729.60 647.58 729.60 649.84 729.92 C652.09 730.24 653.22 733.42 655.48 733.42 C657.73 733.42 658.86 728.65 661.11 728.65 C663.37 728.65 664.50 734.37 666.75 734.37 C669.01 734.37 670.14 726.10 672.39 726.10 C674.65 726.10 675.77 730.56 678.03 730.56 C680.28 730.56 681.41 721.33 683.67 721.33 C685.92 721.33 687.05 724.39 689.31 726.74 C691.56 729.09 692.69 733.10 694.94 733.10 C697.20 733.10 698.33 732.78 700.58 731.83 C702.84 730.87 703.97 728.33 706.22 728.33 C708.48 728.33 709.60 732.46 711.86 732.46 C714.11 732.46 715.24 727.38 717.50 727.38 C719.75 727.38 720.88 730.56 723.14 730.56 C725.39 730.56 726.52 726.10 728.77 726.10 C731.03 726.10 732.16 729.28 734.41 729.28 C736.67 729.28 737.79 722.61 740.05 722.61 C742.31 722.61 743.43 735.33 745.69 735.33 C747.94 735.33 749.07 734.94 751.33 734.37 C753.58 733.80 754.71 733.35 756.97 732.46 C759.22 731.57 760.35 729.92 762.60 729.92 C764.86 729.92 765.99 735.96 768.24 735.96 C770.50 735.96 771.62 731.83 773.88 731.83 C776.14 731.83 777.26 732.78 779.52 733.42 C781.77 734.05 782.90 735.01 785.16 735.01 C787.41 735.01 788.54 728.65 790.79 728.65 C793.05 728.65 794.18 730.94 796.43 732.46 C798.69 733.99 799.82 736.28 802.07 736.28 C804.33 736.28 805.45 730.43 807.71 728.33 C809.97 726.23 811.09 725.79 813.35 725.79 C815.60 725.79 816.73 727.12 818.99 728.33 C821.24 729.54 822.37 731.83 824.62 731.83 C826.88 731.83 828.01 729.28 830.26 728.01 C832.52 726.74 833.65 725.47 835.90 725.47 C838.16 725.47 839.28 727.06 841.54 727.06 C843.79 727.06 844.92 723.24 847.18 723.24 C849.43 723.24 850.56 728.65 852.82 728.65 C855.07 728.65 856.20 727.69 858.45 727.69 C860.71 727.69 861.84 731.83 864.09 731.83 C866.35 731.83 867.48 725.79 869.73 725.79 C871.99 725.79 873.11 730.24 875.37 730.24 C877.62 730.24 878.75 726.10 881.01 726.10 C883.26 726.10 884.39 726.10 886.65 726.10 C888.90 726.10 890.03 730.87 892.28 730.87 C894.54 730.87 895.67 730.87 897.92 729.92 C900.18 728.97 901.31 718.15 903.56 718.15 C905.82 718.15 906.94 727.38 909.20 729.92 C911.45 732.46 912.58 732.46 914.84 732.46 C917.09 732.46 918.22 730.75 920.48 729.60 C922.73 728.46 923.86 727.95 926.11 726.74 C928.37 725.53 929.50 723.56 931.75 723.56 C934.01 723.56 935.14 729.92 937.39 729.92 C939.65 729.92 940.77 723.56 943.03 723.56 C945.28 723.56 946.41 732.46 948.67 732.46 C950.92 732.46 952.05 715.93 954.31 715.93 C956.56 715.93 957.69 725.21 959.94 728.33 C962.20 731.45 963.33 731.51 965.58 731.51 C967.84 731.51 968.97 729.60 971.22 728.65 C973.48 727.69 974.60 726.74 976.86 726.74 C979.11 726.74 980.24 729.92 982.50 729.92 C984.75 729.92 985.88 728.65 988.14 727.06 C990.39 725.47 991.52 721.97 993.77 721.97 C996.03 721.97 997.16 723.24 999.41 724.83 C1001.67 726.42 1002.79 729.92 1005.05 729.92 C1007.31 729.92 1008.43 727.06 1010.69 727.06 C1012.94 727.06 1014.07 732.78 1016.33 732.78 C1018.58 732.78 1019.71 730.49 1021.97 728.65 C1024.22 726.80 1025.35 723.88 1027.60 723.56 C1029.86 723.24 1030.99 723.24 1033.24 723.24 C1035.50 723.24 1036.62 723.24 1038.88 723.56 C1041.14 723.88 1042.26 734.37 1044.52 734.37 C1046.77 734.37 1047.90 729.60 1050.16 729.60 C1052.41 729.60 1053.54 731.51 1055.80 732.15 C1058.05 732.78 1059.18 732.78 1061.43 732.78 C1063.69 732.78 1064.82 727.38 1067.07 727.38 C1069.33 727.38 1070.45 727.38 1072.71 728.65 C1074.97 729.92 1076.09 733.74 1078.35 733.74 C1080.60 733.74 1081.73 732.85 1083.99 731.83 C1086.24 730.81 1087.37 729.54 1089.62 728.65 C1091.88 727.76 1093.01 727.69 1095.26 727.38 C1097.52 727.06 1098.65 727.38 1100.90 727.06 C1103.16 726.74 1104.28 726.36 1106.54 723.56 C1108.80 720.76 1109.92 713.07 1112.18 713.07 C1114.43 713.07 1115.56 716.88 1117.82 716.88 C1120.07 716.88 1121.20 713.38 1123.45 713.38 C1125.71 713.38 1126.84 723.56 1129.09 723.56 C1131.35 723.56 1132.48 717.84 1134.73 717.84 C1136.99 717.84 1138.11 728.65 1140.37 728.65 C1142.62 728.65 1143.75 705.43 1146.01 705.43 C1148.26 705.43 1149.39 721.02 1151.65 721.02 C1153.90 721.02 1155.03 719.11 1157.28 719.11 C1159.54 719.11 1160.67 719.36 1162.92 720.38 C1165.18 721.40 1166.31 724.20 1168.56 724.20 C1170.82 724.20 1171.94 719.11 1174.20 719.11 C1176.45 719.11 1177.58 722.16 1179.84 724.51 C1182.09 726.87 1183.22 730.87 1185.48 730.87 C1187.73 730.87 1188.86 725.85 1191.11 723.56 C1193.37 721.27 1194.50 719.43 1196.75 719.43 C1199.01 719.43 1200.14 720.19 1202.39 721.65 C1204.65 723.11 1205.77 726.74 1208.03 726.74 C1210.28 726.74 1211.41 720.70 1213.67 720.70 C1215.92 720.70 1217.05 724.83 1219.31 724.83 C1221.56 724.83 1222.69 719.49 1224.94 715.61 C1227.20 711.73 1228.33 705.43 1230.58 705.43 C1232.84 705.43 1233.97 714.40 1236.22 719.11 C1238.48 723.81 1239.60 728.97 1241.86 728.97 C1244.11 728.97 1245.24 728.97 1247.50 727.38 C1249.75 725.79 1250.88 716.56 1253.14 716.56 C1255.39 716.56 1256.52 722.61 1258.77 722.61 C1261.03 722.61 1262.16 721.65 1264.41 721.65 C1266.67 721.65 1267.80 727.69 1270.05 728.97 C1272.31 730.24 1273.43 729.60 1275.69 730.24 C1277.94 730.87 1279.07 732.15 1281.33 732.15 C1283.58 732.15 1284.71 724.51 1286.97 724.51 C1289.22 724.51 1290.35 733.10 1292.60 733.10 C1294.86 733.10 1295.99 729.67 1298.24 727.69 C1300.50 725.72 1301.62 723.24 1303.88 723.24 C1306.14 723.24 1307.26 723.24 1309.52 723.56 C1311.77 723.88 1312.90 726.55 1315.16 728.01 C1317.41 729.47 1318.54 730.87 1320.80 730.87 C1323.05 730.87 1324.18 730.87 1326.43 729.28 C1328.69 727.69 1329.82 716.56 1332.07 716.56 C1334.33 716.56 1335.45 716.56 1337.71 716.56 C1339.97 716.56 1341.09 729.28 1343.35 729.28 C1345.60 729.28 1346.73 726.99 1348.99 725.79 C1351.24 724.58 1352.37 724.07 1354.62 723.24 C1356.88 722.42 1358.01 723.24 1360.26 721.65 C1362.52 720.06 1363.65 716.75 1365.90 714.66 C1368.16 712.56 1369.28 711.16 1371.54 711.16 C1373.80 711.16 1374.92 711.48 1377.18 713.38 C1379.43 715.29 1380.56 720.70 1382.82 720.70 C1385.07 720.70 1386.20 712.94 1388.45 709.25 C1390.71 705.56 1391.84 702.25 1394.09 702.25 C1396.35 702.25 1397.48 707.47 1399.73 711.16 C1401.99 714.85 1403.11 720.70 1405.37 720.70 C1407.62 720.70 1408.75 720.70 1411.01 720.38 C1413.26 720.06 1414.39 714.34 1416.65 714.34 C1418.90 714.34 1420.03 716.25 1422.28 716.25 C1424.54 716.25 1425.67 713.70 1427.92 713.70 C1430.18 713.70 1431.31 721.02 1433.56 721.02 C1435.82 721.02 1436.94 720.38 1439.20 720.38 C1441.45 720.38 1442.58 724.83 1444.84 724.83 C1447.09 724.83 1448.22 723.50 1450.48 722.61 C1452.73 721.72 1453.86 720.38 1456.11 720.38 C1458.37 720.38 1459.50 721.33 1461.75 721.33 C1464.01 721.33 1465.14 714.34 1467.39 714.34 C1469.65 714.34 1470.77 716.69 1473.03 718.15 C1475.28 719.62 1476.41 721.65 1478.67 721.65 C1480.92 721.65 1482.05 713.07 1484.31 713.07 C1486.56 713.07 1487.69 721.02 1489.94 721.02 C1492.20 721.02 1493.33 710.78 1495.58 707.34 C1497.84 703.91 1498.97 703.84 1501.22 703.84 C1503.48 703.84 1504.60 709.25 1506.86 709.25 C1509.11 709.25 1510.24 709.25 1512.50 708.93 C1514.75 708.61 1515.88 704.80 1518.14 704.80 C1520.39 704.80 1521.52 710.39 1523.77 713.70 C1526.03 717.01 1527.16 721.33 1529.41 721.33 C1531.67 721.33 1532.80 715.99 1535.05 714.02 C1537.31 712.05 1538.43 714.02 1540.69 711.48 C1542.94 708.93 1544.07 702.00 1546.33 698.44 C1548.58 694.88 1549.71 693.67 1551.97 693.67 C1554.22 693.67 1555.35 706.07 1557.60 706.07 C1559.86 706.07 1560.99 703.84 1563.24 703.84 C1565.50 703.84 1566.62 714.02 1568.88 714.02 C1571.14 714.02 1572.26 712.75 1574.52 712.75 C1576.77 712.75 1577.90 728.01 1580.16 728.01 C1582.41 728.01 1583.54 717.84 1585.80 717.84 C1588.05 717.84 1589.18 722.92 1591.43 722.92 C1593.69 722.92 1594.82 722.61 1597.07 722.61 C1599.33 722.61 1600.45 732.15 1602.71 732.15 C1604.97 732.15 1606.09 725.15 1608.35 725.15 C1610.60 725.15 1611.73 726.55 1613.99 728.01 C1616.24 729.47 1617.37 732.46 1619.62 732.46 C1621.88 732.46 1623.01 729.73 1625.26 728.65 C1627.52 727.57 1628.65 728.01 1630.90 727.06 C1633.16 726.10 1634.28 723.88 1636.54 723.88 C1638.80 723.88 1639.92 723.88 1642.18 723.88 C1644.43 723.88 1645.56 724.51 1647.82 724.51 C1650.07 724.51 1651.20 717.84 1653.45 717.84 C1655.71 717.84 1656.84 719.43 1659.09 720.06 C1661.35 720.70 1662.48 720.06 1664.73 721.02 C1666.99 721.97 1668.11 736.60 1670.37 736.60 C1672.63 736.60 1673.75 703.84 1676.01 703.84 C1678.26 703.84 1679.39 720.38 1681.65 720.38 C1683.90 720.38 1685.03 720.38 1687.28 719.74 C1689.54 719.11 1690.67 711.48 1692.92 711.48 C1695.18 711.48 1696.31 723.56 1698.56 723.56 C1700.82 723.56 1701.94 718.79 1704.20 716.88 C1706.45 714.97 1707.58 714.02 1709.84 714.02 C1712.09 714.02 1713.22 717.52 1715.48 718.15 C1717.73 718.79 1718.86 718.47 1721.11 718.79 C1723.37 719.11 1724.50 719.74 1726.75 719.74 C1729.01 719.74 1730.14 719.11 1732.39 718.79 C1734.65 718.47 1735.77 718.79 1738.03 718.15 C1740.28 717.52 1741.41 715.10 1743.67 714.02 C1745.92 712.94 1747.05 712.75 1749.31 712.75 C1751.56 712.75 1752.69 713.13 1754.94 714.02 C1757.20 714.91 1758.33 717.20 1760.58 717.20 C1762.84 717.20 1763.97 710.90 1766.22 707.66 C1768.48 704.42 1769.60 700.98 1771.86 700.98 C1774.11 700.98 1775.24 700.98 1777.50 702.57 C1779.75 704.16 1780.88 714.02 1783.14 714.02 C1785.39 714.02 1786.52 703.21 1788.77 703.21 C1791.03 703.21 1792.16 707.15 1794.41 710.52 C1796.67 713.89 1797.80 720.06 1800.05 720.06 C1802.31 720.06 1803.43 716.31 1805.69 712.75 C1807.94 709.19 1809.07 702.25 1811.33 702.25 C1813.58 702.25 1814.71 714.66 1816.97 714.66 C1819.22 714.66 1820.35 699.71 1822.60 699.71 C1823.40 699.71 1824.60 700.73 1824.60 700.73" fill="none" stroke="#fb8c1a" stroke-width="1"/>
<path d="M210.05 724.20 C210.05 724.20 213.43 727.38 215.69 727.38 C217.94 727.38 219.07 721.97 221.33 721.97 C223.58 721.97 224.71 730.56 226.96 730.56 C229.22 730.56 230.35 729.16 232.60 728.01 C234.86 726.87 235.99 724.83 238.24 724.83 C240.50 724.83 241.62 724.83 243.88 726.10 C246.14 727.38 247.26 731.51 249.52 732.46 C251.77 733.42 252.90 733.42 255.16 733.42 C257.41 733.42 258.54 727.38 260.79 726.74 C263.05 726.10 264.18 726.10 266.43 726.10 C268.69 726.10 269.82 729.28 272.07 729.28 C274.33 729.28 275.45 723.24 277.71 723.24 C279.96 723.24 281.09 726.10 283.35 726.10 C285.60 726.10 286.73 719.11 288.99 719.11 C291.24 719.11 292.37 722.92 294.62 722.92 C296.88 722.92 298.01 719.11 300.26 716.88 C302.52 714.66 303.65 711.79 305.90 711.79 C308.16 711.79 309.28 724.83 311.54 724.83 C313.79 724.83 314.92 724.83 317.18 724.51 C319.43 724.20 320.56 721.33 322.82 721.33 C325.07 721.33 326.20 723.88 328.45 723.88 C330.71 723.88 331.84 715.93 334.09 715.93 C336.35 715.93 337.48 715.93 339.73 716.56 C341.99 717.20 343.11 717.96 345.37 720.38 C347.62 722.80 348.75 728.65 351.01 728.65 C353.26 728.65 354.39 720.38 356.65 720.38 C358.90 720.38 360.03 726.10 362.28 726.74 C364.54 727.38 365.67 726.74 367.92 727.38 C370.18 728.01 371.31 731.19 373.56 731.19 C375.82 731.19 376.94 722.61 379.20 722.61 C381.45 722.61 382.58 729.22 384.84 731.51 C387.09 733.80 388.22 734.05 390.48 734.05 C392.73 734.05 393.86 727.38 396.11 727.38 C398.37 727.38 399.50 727.57 401.75 727.69 C404.01 727.82 405.14 728.01 407.39 728.01 C409.65 728.01 410.77 726.17 413.03 725.15 C415.28 724.13 416.41 722.92 418.67 722.92 C420.92 722.92 422.05 728.33 424.31 728.33 C426.56 728.33 427.69 725.47 429.94 725.47 C432.20 725.47 433.33 730.56 435.58 730.56 C437.84 730.56 438.96 723.88 441.22 723.88 C443.48 723.88 444.60 727.25 446.86 728.97 C449.11 730.68 450.24 731.06 452.50 732.46 C454.75 733.86 455.88 735.96 458.14 735.96 C460.39 735.96 461.52 733.80 463.77 732.46 C466.03 731.13 467.16 729.28 469.41 729.28 C471.67 729.28 472.79 735.33 475.05 735.33 C477.31 735.33 478.43 735.20 480.69 735.01 C482.94 734.82 484.07 734.37 486.33 734.37 C488.58 734.37 489.71 734.37 491.97 735.01 C494.22 735.64 495.35 738.82 497.60 738.82 C499.86 738.82 500.99 737.87 503.24 736.60 C505.50 735.33 506.62 732.46 508.88 732.46 C511.14 732.46 512.26 737.55 514.52 737.55 C516.77 737.55 517.90 737.55 520.16 737.55 C522.41 737.55 523.54 732.15 525.79 732.15 C528.05 732.15 529.18 739.14 531.43 739.14 C533.69 739.14 534.82 733.42 537.07 733.42 C539.33 733.42 540.45 736.92 542.71 736.92 C544.97 736.92 546.09 735.64 548.35 735.64 C550.60 735.64 551.73 735.83 553.99 735.96 C556.24 736.09 557.37 736.28 559.62 736.28 C561.88 736.28 563.01 732.46 565.26 730.24 C567.52 728.01 568.65 727.63 570.90 725.15 C573.16 722.67 574.28 717.84 576.54 717.84 C578.79 717.84 579.92 731.83 582.18 731.83 C584.43 731.83 585.56 725.15 587.82 725.15 C590.07 725.15 591.20 731.51 593.45 731.51 C595.71 731.51 596.84 728.33 599.09 728.33 C601.35 728.33 602.48 731.83 604.73 731.83 C606.99 731.83 608.11 727.69 610.37 727.69 C612.62 727.69 613.75 731.45 616.01 733.10 C618.26 734.75 619.39 735.96 621.65 735.96 C623.90 735.96 625.03 735.96 627.28 735.64 C629.54 735.33 630.67 729.60 632.92 729.60 C635.18 729.60 636.31 740.41 638.56 740.41 C640.82 740.41 641.94 735.96 644.20 735.96 C646.45 735.96 647.58 735.96 649.84 736.28 C652.09 736.60 653.22 738.82 655.48 738.82 C657.73 738.82 658.86 736.60 661.11 736.60 C663.37 736.60 664.50 739.78 666.75 739.78 C669.01 739.78 670.14 734.69 672.39 734.69 C674.65 734.69 675.77 737.55 678.03 737.55 C680.28 737.55 681.41 735.96 683.67 735.96 C685.92 735.96 687.05 738.57 689.31 739.78 C691.56 740.99 692.69 742.00 694.94 742.00 C697.20 742.00 698.33 740.29 700.58 739.14 C702.84 738.00 703.97 736.28 706.22 736.28 C708.48 736.28 709.60 739.46 711.86 739.46 C714.11 739.46 715.24 737.62 717.50 736.92 C719.75 736.22 720.88 735.96 723.14 735.96 C725.39 735.96 726.52 735.96 728.77 735.96 C731.03 735.96 732.16 737.23 734.41 737.23 C736.67 737.23 737.79 731.51 740.05 731.51 C742.31 731.51 743.43 741.37 745.69 741.37 C747.94 741.37 749.07 739.78 751.33 739.14 C753.58 738.51 754.71 739.08 756.97 738.19 C759.22 737.30 760.35 734.69 762.60 734.69 C764.86 734.69 765.99 741.37 768.24 741.37 C770.50 741.37 771.62 736.28 773.88 736.28 C776.14 736.28 777.26 737.81 779.52 738.51 C781.77 739.21 782.90 739.78 785.16 739.78 C787.41 739.78 788.54 734.05 790.79 734.05 C793.05 734.05 794.18 735.33 796.43 736.60 C798.69 737.87 799.82 740.41 802.07 740.41 C804.33 740.41 805.45 733.74 807.71 732.78 C809.97 731.83 811.09 731.83 813.35 731.83 C815.60 731.83 816.73 732.53 818.99 733.74 C821.24 734.94 822.37 737.87 824.62 737.87 C826.88 737.87 828.01 737.87 830.26 736.92 C832.52 735.96 833.65 731.83 835.90 731.83 C838.16 731.83 839.28 733.10 841.54 733.10 C843.79 733.10 844.92 732.46 847.18 732.46 C849.43 732.46 850.56 734.37 852.82 734.37 C855.07 734.37 856.20 732.78 858.45 732.78 C860.71 732.78 861.84 737.23 864.09 737.23 C866.35 737.23 867.48 728.01 869.73 728.01 C871.99 728.01 873.11 732.78 875.37 732.78 C877.62 732.78 878.75 727.69 881.01 727.69 C883.26 727.69 884.39 727.88 886.65 728.97 C888.90 730.05 890.03 733.10 892.28 733.10 C894.54 733.10 895.67 733.10 897.92 731.51 C900.18 729.92 901.31 719.74 903.56 719.74 C905.82 719.74 906.94 732.15 909.20 733.10 C911.45 734.05 912.58 734.05 914.84 734.05 C917.09 734.05 918.22 733.29 920.48 732.15 C922.73 731.00 923.86 729.67 926.11 728.33 C928.37 726.99 929.50 725.47 931.75 725.47 C934.01 725.47 935.14 733.74 937.39 733.74 C939.65 733.74 940.77 728.01 943.03 728.01 C945.28 728.01 946.41 735.96 948.67 735.96 C950.92 735.96 952.05 721.33 954.31 721.33 C956.56 721.33 957.69 728.20 959.94 731.51 C962.20 734.82 963.33 737.87 965.58 737.87 C967.84 737.87 968.97 734.94 971.22 733.74 C973.48 732.53 974.60 731.83 976.86 731.83 C979.11 731.83 980.24 733.74 982.50 733.74 C984.75 733.74 985.88 733.42 988.14 732.46 C990.39 731.51 991.52 728.97 993.77 728.97 C996.03 728.97 997.16 730.24 999.41 731.51 C1001.67 732.78 1002.79 735.33 1005.05 735.33 C1007.31 735.33 1008.43 732.46 1010.69 732.46 C1012.94 732.46 1014.07 735.96 1016.33 735.96 C1018.58 735.96 1019.71 735.45 1021.97 734.37 C1024.22 733.29 1025.35 731.51 1027.60 730.56 C1029.86 729.60 1030.99 729.60 1033.24 729.60 C1035.50 729.60 1036.62 729.60 1038.88 729.60 C1041.14 729.60 1042.26 738.19 1044.52 738.19 C1046.77 738.19 1047.90 733.42 1050.16 733.42 C1052.41 733.42 1053.54 734.18 1055.80 735.01 C1058.05 735.83 1059.18 737.55 1061.43 737.55 C1063.69 737.55 1064.82 732.15 1067.07 732.15 C1069.33 732.15 1070.45 734.24 1072.71 735.64 C1074.97 737.04 1076.09 739.14 1078.35 739.14 C1080.60 739.14 1081.73 735.33 1083.99 735.33 C1086.24 735.33 1087.37 735.64 1089.62 735.64 C1091.88 735.64 1093.01 733.74 1095.26 733.74 C1097.52 733.74 1098.65 733.74 1100.90 733.74 C1103.16 733.74 1104.28 731.96 1106.54 729.60 C1108.80 727.25 1109.92 721.97 1112.18 721.97 C1114.43 721.97 1115.56 723.56 1117.82 723.56 C1120.07 723.56 1121.20 720.70 1123.45 720.70 C1125.71 720.70 1126.84 731.19 1129.09 731.19 C1131.35 731.19 1132.48 724.83 1134.73 724.83 C1136.99 724.83 1138.11 735.33 1140.37 735.33 C1142.62 735.33 1143.75 716.25 1146.01 716.25 C1148.26 716.25 1149.39 727.38 1151.65 727.38 C1153.90 727.38 1155.03 725.47 1157.28 725.47 C1159.54 725.47 1160.67 728.65 1162.92 728.65 C1165.18 728.65 1166.31 728.65 1168.56 728.01 C1170.82 727.38 1171.94 724.83 1174.20 724.83 C1176.45 724.83 1177.58 725.47 1179.84 727.38 C1182.09 729.28 1183.22 734.37 1185.48 734.37 C1187.73 734.37 1188.86 727.69 1191.11 726.74 C1193.37 725.79 1194.50 726.36 1196.75 725.79 C1199.01 725.21 1200.14 723.88 1202.39 723.88 C1204.65 723.88 1205.77 731.83 1208.03 731.83 C1210.28 731.83 1211.41 726.10 1213.67 726.10 C1215.92 726.10 1217.05 728.97 1219.31 728.97 C1221.56 728.97 1222.69 722.67 1224.94 718.79 C1227.20 714.91 1228.33 709.57 1230.58 709.57 C1232.84 709.57 1233.97 718.15 1236.22 722.61 C1238.48 727.06 1239.60 731.83 1241.86 731.83 C1244.11 731.83 1245.24 731.70 1247.50 728.97 C1249.75 726.23 1250.88 718.15 1253.14 718.15 C1255.39 718.15 1256.52 726.42 1258.77 726.42 C1261.03 726.42 1262.16 724.51 1264.41 724.51 C1266.67 724.51 1267.80 730.87 1270.05 731.19 C1272.31 731.51 1273.43 731.19 1275.69 731.51 C1277.94 731.83 1279.07 734.37 1281.33 734.37 C1283.58 734.37 1284.71 726.74 1286.97 726.74 C1289.22 726.74 1290.35 734.69 1292.60 734.69 C1294.86 734.69 1295.99 732.08 1298.24 729.92 C1300.50 727.76 1301.62 723.88 1303.88 723.88 C1306.14 723.88 1307.26 724.77 1309.52 725.79 C1311.77 726.80 1312.90 727.76 1315.16 728.97 C1317.41 730.17 1318.54 731.83 1320.80 731.83 C1323.05 731.83 1324.18 731.83 1326.43 730.24 C1328.69 728.65 1329.82 719.43 1332.07 719.43 C1334.33 719.43 1335.45 719.43 1337.71 719.74 C1339.97 720.06 1341.09 731.19 1343.35 731.19 C1345.60 731.19 1346.73 729.03 1348.99 727.69 C1351.24 726.36 1352.37 725.53 1354.62 724.51 C1356.88 723.50 1358.01 724.13 1360.26 722.61 C1362.52 721.08 1363.65 718.73 1365.90 716.88 C1368.16 715.04 1369.28 713.38 1371.54 713.38 C1373.80 713.38 1374.92 714.47 1377.18 716.56 C1379.43 718.66 1380.56 723.88 1382.82 723.88 C1385.07 723.88 1386.20 715.23 1388.45 711.48 C1390.71 707.72 1391.84 705.12 1394.09 705.12 C1396.35 705.12 1397.48 710.33 1399.73 714.02 C1401.99 717.71 1403.11 723.56 1405.37 723.56 C1407.62 723.56 1408.75 723.56 1411.01 722.92 C1413.26 722.29 1414.39 719.74 1416.65 719.43 C1418.90 719.11 1420.03 719.43 1422.28 719.11 C1424.54 718.79 1425.67 716.88 1427.92 716.88 C1430.18 716.88 1431.31 725.79 1433.56 725.79 C1435.82 725.79 1436.94 723.24 1439.20 723.24 C1441.45 723.24 1442.58 728.65 1444.84 728.65 C1447.09 728.65 1448.22 725.79 1450.48 724.83 C1452.73 723.88 1453.86 723.88 1456.11 723.88 C1458.37 723.88 1459.50 725.47 1461.75 725.47 C1464.01 725.47 1465.14 717.52 1467.39 717.52 C1469.65 717.52 1470.77 721.52 1473.03 723.24 C1475.28 724.96 1476.41 726.10 1478.67 726.10 C1480.92 726.10 1482.05 721.33 1484.31 721.33 C1486.56 721.33 1487.69 726.74 1489.94 726.74 C1492.20 726.74 1493.33 714.02 1495.58 713.38 C1497.84 712.75 1498.97 712.75 1501.22 712.75 C1503.48 712.75 1504.60 715.93 1506.86 715.93 C1509.11 715.93 1510.24 715.93 1512.50 715.29 C1514.75 714.66 1515.88 712.43 1518.14 712.43 C1520.39 712.43 1521.52 717.33 1523.77 720.06 C1526.03 722.80 1527.16 726.10 1529.41 726.10 C1531.67 726.10 1532.80 720.51 1535.05 718.15 C1537.31 715.80 1538.43 717.07 1540.69 714.34 C1542.94 711.60 1544.07 704.48 1546.33 704.48 C1548.58 704.48 1549.71 704.48 1551.97 704.80 C1554.22 705.12 1555.35 710.52 1557.60 710.52 C1559.86 710.52 1560.99 707.34 1563.24 707.34 C1565.50 707.34 1566.62 718.47 1568.88 719.11 C1571.14 719.74 1572.26 719.11 1574.52 719.74 C1576.77 720.38 1577.90 728.65 1580.16 728.65 C1582.41 728.65 1583.54 721.33 1585.80 721.33 C1588.05 721.33 1589.18 723.75 1591.43 724.83 C1593.69 725.91 1594.82 725.28 1597.07 726.74 C1599.33 728.20 1600.45 732.15 1602.71 732.15 C1604.97 732.15 1606.09 726.74 1608.35 726.74 C1610.60 726.74 1611.73 728.84 1613.99 730.24 C1616.24 731.64 1617.37 733.74 1619.62 733.74 C1621.88 733.74 1623.01 731.83 1625.26 730.87 C1627.52 729.92 1628.65 729.73 1630.90 728.97 C1633.16 728.20 1634.28 727.06 1636.54 727.06 C1638.80 727.06 1639.92 727.06 1642.18 727.06 C1644.43 727.06 1645.56 727.38 1647.82 727.38 C1650.07 727.38 1651.20 721.02 1653.45 721.02 C1655.71 721.02 1656.84 722.10 1659.09 722.92 C1661.35 723.75 1662.48 722.92 1664.73 725.15 C1666.99 727.38 1668.11 739.46 1670.37 739.46 C1672.63 739.46 1673.75 708.30 1676.01 708.30 C1678.26 708.30 1679.39 723.56 1681.65 723.56 C1683.90 723.56 1685.03 723.56 1687.28 723.56 C1689.54 723.56 1690.67 715.61 1692.92 715.61 C1695.18 715.61 1696.31 727.69 1698.56 727.69 C1700.82 727.69 1701.94 724.20 1704.20 722.61 C1706.45 721.02 1707.58 719.74 1709.84 719.74 C1712.09 719.74 1713.22 720.19 1715.48 720.38 C1717.73 720.57 1718.86 720.38 1721.11 720.70 C1723.37 721.02 1724.50 724.51 1726.75 724.51 C1729.01 724.51 1730.14 722.92 1732.39 722.92 C1734.65 722.92 1735.77 722.92 1738.03 722.92 C1740.28 722.92 1741.41 718.79 1743.67 718.79 C1745.92 718.79 1747.05 720.06 1749.31 720.06 C1751.56 720.06 1752.69 719.74 1754.94 719.74 C1757.20 719.74 1758.33 722.92 1760.58 722.92 C1762.84 722.92 1763.97 718.41 1766.22 715.93 C1768.48 713.45 1769.60 710.52 1771.86 710.52 C1774.11 710.52 1775.24 710.78 1777.50 713.07 C1779.75 715.36 1780.88 721.97 1783.14 721.97 C1785.39 721.97 1786.52 709.89 1788.77 709.89 C1791.03 709.89 1792.16 714.27 1794.41 717.20 C1796.67 720.13 1797.80 724.51 1800.05 724.51 C1802.31 724.51 1803.43 723.37 1805.69 720.06 C1807.94 716.75 1809.07 707.98 1811.33 707.98 C1813.58 707.98 1814.71 718.47 1816.97 718.47 C1819.22 718.47 1820.35 705.43 1822.60 705.43 C1823.40 705.43 1824.60 705.69 1824.60 705.69" fill="none" stroke="#8fa6c6" stroke-width="1"/>
<path d="M210.05 744.87 C210.05 744.87 213.43 744.55 215.69 744.55 C217.94 744.55 219.07 746.77 221.33 746.77 C223.58 746.77 224.71 746.07 226.96 745.18 C229.22 744.29 230.35 742.32 232.60 742.32 C234.86 742.32 235.99 745.82 238.24 745.82 C240.50 745.82 241.62 744.23 243.88 744.23 C246.14 744.23 247.26 747.73 249.52 747.73 C251.77 747.73 252.90 745.18 255.16 745.18 C257.41 745.18 258.54 745.82 260.79 745.82 C263.05 745.82 264.18 745.82 266.43 745.50 C268.69 745.18 269.82 740.73 272.07 740.73 C274.33 740.73 275.45 744.87 277.71 744.87 C279.96 744.87 281.09 743.02 283.35 742.00 C285.60 740.99 286.73 740.48 288.99 739.78 C291.24 739.08 292.37 738.51 294.62 738.51 C296.88 738.51 298.01 741.37 300.26 741.37 C302.52 741.37 303.65 739.46 305.90 739.46 C308.16 739.46 309.28 741.30 311.54 742.00 C313.79 742.70 314.92 742.64 317.18 742.96 C319.43 743.28 320.56 743.59 322.82 743.59 C325.07 743.59 326.20 742.32 328.45 742.32 C330.71 742.32 331.84 742.39 334.09 743.28 C336.35 744.17 337.48 746.77 339.73 746.77 C341.99 746.77 343.11 744.29 345.37 743.28 C347.62 742.26 348.75 741.69 351.01 741.69 C353.26 741.69 354.39 744.55 356.65 744.55 C358.90 744.55 360.03 743.91 362.28 743.91 C364.54 743.91 365.67 746.77 367.92 746.77 C370.18 746.77 371.31 746.58 373.56 744.23 C375.82 741.88 376.94 735.01 379.20 735.01 C381.45 735.01 382.58 745.82 384.84 746.46 C387.09 747.09 388.22 747.09 390.48 747.09 C392.73 747.09 393.86 746.96 396.11 746.77 C398.37 746.58 399.50 746.14 401.75 746.14 C404.01 746.14 405.14 746.14 407.39 746.14 C409.65 746.14 410.77 743.28 413.03 742.64 C415.28 742.00 416.41 742.00 418.67 742.00 C420.92 742.00 422.05 744.04 424.31 744.87 C426.56 745.69 427.69 746.14 429.94 746.14 C432.20 746.14 433.33 746.14 435.58 745.82 C437.84 745.50 438.96 742.96 441.22 742.96 C443.48 742.96 444.60 742.96 446.86 742.96 C449.11 742.96 450.24 745.50 452.50 745.50 C454.75 745.50 455.88 744.23 458.14 744.23 C460.39 744.23 461.52 744.87 463.77 745.18 C466.03 745.50 467.16 745.82 469.41 745.82 C471.67 745.82 472.79 742.32 475.05 742.32 C477.31 742.32 478.43 742.32 480.69 742.32 C482.94 742.32 484.07 743.91 486.33 743.91 C488.58 743.91 489.71 742.26 491.97 741.69 C494.22 741.11 495.35 741.05 497.60 741.05 C499.86 741.05 500.99 744.87 503.24 744.87 C505.50 744.87 506.62 744.23 508.88 744.23 C511.14 744.23 512.26 746.46 514.52 746.46 C516.77 746.46 517.90 743.28 520.16 743.28 C522.41 743.28 523.54 743.59 525.79 743.59 C528.05 743.59 529.18 743.59 531.43 743.59 C533.69 743.59 534.82 743.66 537.07 743.91 C539.33 744.17 540.45 744.87 542.71 744.87 C544.97 744.87 546.09 744.10 548.35 742.64 C550.60 741.18 551.73 737.55 553.99 737.55 C556.24 737.55 557.37 743.28 559.62 743.28 C561.88 743.28 563.01 742.96 565.26 742.96 C567.52 742.96 568.65 745.82 570.90 745.82 C573.16 745.82 574.28 740.73 576.54 740.73 C578.79 740.73 579.92 740.92 582.18 742.00 C584.43 743.09 585.56 746.14 587.82 746.14 C590.07 746.14 591.20 746.14 593.45 746.14 C595.71 746.14 596.84 746.14 599.09 745.82 C601.35 745.50 602.48 742.96 604.73 742.96 C606.99 742.96 608.11 743.91 610.37 743.91 C612.62 743.91 613.75 742.64 616.01 742.64 C618.26 742.64 619.39 744.23 621.65 744.23 C623.90 744.23 625.03 741.37 627.28 741.37 C629.54 741.37 630.67 743.91 632.92 743.91 C635.18 743.91 636.31 741.69 638.56 741.69 C640.82 741.69 641.94 742.64 644.20 742.64 C646.45 742.64 647.58 742.64 649.84 742.64 C652.09 742.64 653.22 743.59 655.48 743.59 C657.73 743.59 658.86 741.05 661.11 741.05 C663.37 741.05 664.50 743.59 666.75 743.59 C669.01 743.59 670.14 740.41 672.39 740.41 C674.65 740.41 675.77 742.00 678.03 742.00 C680.28 742.00 681.41 734.37 683.67 734.37 C685.92 734.37 687.05 734.82 689.31 735.96 C691.56 737.11 692.69 738.95 694.94 740.10 C697.20 741.24 698.33 741.69 700.58 741.69 C702.84 741.69 703.97 741.05 706.22 741.05 C708.48 741.05 709.60 742.00 711.86 742.00 C714.11 742.00 715.24 739.46 717.50 739.46 C719.75 739.46 720.88 743.59 723.14 743.59 C725.39 743.59 726.52 739.14 728.77 739.14 C731.03 739.14 732.16 741.05 734.41 741.05 C736.67 741.05 737.79 740.10 740.05 740.10 C742.31 740.10 743.43 742.13 745.69 742.96 C747.94 743.78 749.07 744.23 751.33 744.23 C753.58 744.23 754.71 743.28 756.97 743.28 C759.22 743.28 760.35 744.23 762.60 744.23 C764.86 744.23 765.99 743.59 768.24 743.59 C770.50 743.59 771.62 744.55 773.88 744.55 C776.14 744.55 777.26 743.91 779.52 743.91 C781.77 743.91 782.90 744.23 785.16 744.23 C787.41 744.23 788.54 743.59 790.79 743.59 C793.05 743.59 794.18 744.87 796.43 744.87 C798.69 744.87 799.82 744.87 802.07 744.87 C804.33 744.87 805.45 744.87 807.71 744.55 C809.97 744.23 811.09 742.96 813.35 742.96 C815.60 742.96 816.73 743.59 818.99 743.59 C821.24 743.59 822.37 743.59 824.62 742.96 C826.88 742.32 828.01 740.10 830.26 740.10 C832.52 740.10 833.65 742.32 835.90 742.64 C838.16 742.96 839.28 742.96 841.54 742.96 C843.79 742.96 844.92 739.78 847.18 739.78 C849.43 739.78 850.56 742.64 852.82 743.28 C855.07 743.91 856.20 743.91 858.45 743.91 C860.71 743.91 861.84 743.59 864.09 743.59 C866.35 743.59 867.48 746.77 869.73 746.77 C871.99 746.77 873.11 746.46 875.37 746.46 C877.62 746.46 878.75 747.41 881.01 747.41 C883.26 747.41 884.39 746.14 886.65 746.14 C888.90 746.14 890.03 746.52 892.28 746.77 C894.54 747.03 895.67 747.41 897.92 747.41 C900.18 747.41 901.31 747.41 903.56 747.41 C905.82 747.41 906.94 745.82 909.20 745.82 C911.45 745.82 912.58 747.41 914.84 747.41 C917.09 747.41 918.22 746.46 920.48 746.46 C922.73 746.46 923.86 747.41 926.11 747.41 C928.37 747.41 929.50 747.41 931.75 747.09 C934.01 746.77 935.14 745.69 937.39 745.18 C939.65 744.68 940.77 744.55 943.03 744.55 C945.28 744.55 946.41 745.50 948.67 745.50 C950.92 745.50 952.05 743.59 954.31 743.59 C956.56 743.59 957.69 745.82 959.94 745.82 C962.20 745.82 963.33 742.64 965.58 742.64 C967.84 742.64 968.97 743.91 971.22 743.91 C973.48 743.91 974.60 743.91 976.86 743.91 C979.11 743.91 980.24 745.18 982.50 745.18 C984.75 745.18 985.88 744.23 988.14 743.59 C990.39 742.96 991.52 742.00 993.77 742.00 C996.03 742.00 997.16 742.00 999.41 742.32 C1001.67 742.64 1002.79 743.59 1005.05 743.59 C1007.31 743.59 1008.43 743.59 1010.69 743.59 C1012.94 743.59 1014.07 745.82 1016.33 745.82 C1018.58 745.82 1019.71 744.04 1021.97 743.28 C1024.22 742.51 1025.35 742.00 1027.60 742.00 C1029.86 742.00 1030.99 742.45 1033.24 742.64 C1035.50 742.83 1036.62 742.64 1038.88 742.96 C1041.14 743.28 1042.26 745.18 1044.52 745.18 C1046.77 745.18 1047.90 745.18 1050.16 745.18 C1052.41 745.18 1053.54 746.14 1055.80 746.14 C1058.05 746.14 1059.18 744.23 1061.43 744.23 C1063.69 744.23 1064.82 744.23 1067.07 744.23 C1069.33 744.23 1070.45 742.00 1072.71 742.00 C1074.97 742.00 1076.09 742.89 1078.35 743.59 C1080.60 744.29 1081.73 745.50 1083.99 745.50 C1086.24 745.50 1087.37 742.00 1089.62 742.00 C1091.88 742.00 1093.01 742.64 1095.26 742.64 C1097.52 742.64 1098.65 742.32 1100.90 742.32 C1103.16 742.32 1104.28 742.96 1106.54 742.96 C1108.80 742.96 1109.92 740.10 1112.18 740.10 C1114.43 740.10 1115.56 742.32 1117.82 742.32 C1120.07 742.32 1121.20 741.88 1123.45 741.69 C1125.71 741.50 1126.84 741.37 1129.09 741.37 C1131.35 741.37 1132.48 741.81 1134.73 742.00 C1136.99 742.19 1138.11 742.32 1140.37 742.32 C1142.62 742.32 1143.75 738.19 1146.01 738.19 C1148.26 738.19 1149.39 742.64 1151.65 742.64 C1153.90 742.64 1155.03 742.64 1157.28 742.64 C1159.54 742.64 1160.67 740.73 1162.92 740.73 C1165.18 740.73 1166.31 745.18 1168.56 745.18 C1170.82 745.18 1171.94 743.28 1174.20 743.28 C1176.45 743.28 1177.58 746.14 1179.84 746.14 C1182.09 746.14 1183.22 745.50 1185.48 745.50 C1187.73 745.50 1188.86 745.82 1191.11 745.82 C1193.37 745.82 1194.50 742.64 1196.75 742.64 C1199.01 742.64 1200.14 746.77 1202.39 746.77 C1204.65 746.77 1205.77 744.23 1208.03 743.91 C1210.28 743.59 1211.41 743.59 1213.67 743.59 C1215.92 743.59 1217.05 744.42 1219.31 744.87 C1221.56 745.31 1222.69 745.82 1224.94 745.82 C1227.20 745.82 1228.33 744.87 1230.58 744.87 C1232.84 744.87 1233.97 745.25 1236.22 745.50 C1238.48 745.76 1239.60 745.76 1241.86 746.14 C1244.11 746.52 1245.24 747.41 1247.50 747.41 C1249.75 747.41 1250.88 747.41 1253.14 747.41 C1255.39 747.41 1256.52 745.18 1258.77 745.18 C1261.03 745.18 1262.16 745.82 1264.41 746.14 C1266.67 746.46 1267.80 746.46 1270.05 746.77 C1272.31 747.09 1273.43 747.73 1275.69 747.73 C1277.94 747.73 1279.07 746.77 1281.33 746.77 C1283.58 746.77 1284.71 746.77 1286.97 746.77 C1289.22 746.77 1290.35 747.41 1292.60 747.41 C1294.86 747.41 1295.99 746.77 1298.24 746.77 C1300.50 746.77 1301.62 748.36 1303.88 748.36 C1306.14 748.36 1307.26 746.77 1309.52 746.77 C1311.77 746.77 1312.90 748.05 1315.16 748.05 C1317.41 748.05 1318.54 748.05 1320.80 748.05 C1323.05 748.05 1324.18 748.05 1326.43 748.05 C1328.69 748.05 1329.82 746.46 1332.07 746.14 C1334.33 745.82 1335.45 745.82 1337.71 745.82 C1339.97 745.82 1341.09 747.09 1343.35 747.09 C1345.60 747.09 1346.73 747.09 1348.99 747.09 C1351.24 747.09 1352.37 747.54 1354.62 747.73 C1356.88 747.92 1358.01 748.05 1360.26 748.05 C1362.52 748.05 1363.65 746.77 1365.90 746.77 C1368.16 746.77 1369.28 746.77 1371.54 746.77 C1373.80 746.77 1374.92 745.82 1377.18 745.82 C1379.43 745.82 1380.56 745.82 1382.82 745.82 C1385.07 745.82 1386.20 746.77 1388.45 746.77 C1390.71 746.77 1391.84 746.14 1394.09 746.14 C1396.35 746.14 1397.48 746.14 1399.73 746.14 C1401.99 746.14 1403.11 746.14 1405.37 746.14 C1407.62 746.14 1408.75 746.46 1411.01 746.46 C1413.26 746.46 1414.39 743.91 1416.65 743.91 C1418.90 743.91 1420.03 746.14 1422.28 746.14 C1424.54 746.14 1425.67 746.14 1427.92 745.82 C1430.18 745.50 1431.31 744.23 1433.56 744.23 C1435.82 744.23 1436.94 746.14 1439.20 746.14 C1441.45 746.14 1442.58 745.18 1444.84 745.18 C1447.09 745.18 1448.22 746.77 1450.48 746.77 C1452.73 746.77 1453.86 745.88 1456.11 745.50 C1458.37 745.12 1459.50 744.87 1461.75 744.87 C1464.01 744.87 1465.14 745.82 1467.39 745.82 C1469.65 745.82 1470.77 743.91 1473.03 743.91 C1475.28 743.91 1476.41 744.55 1478.67 744.55 C1480.92 744.55 1482.05 740.73 1484.31 740.73 C1486.56 740.73 1487.69 743.28 1489.94 743.28 C1492.20 743.28 1493.33 743.28 1495.58 742.96 C1497.84 742.64 1498.97 740.10 1501.22 740.10 C1503.48 740.10 1504.60 742.00 1506.86 742.32 C1509.11 742.64 1510.24 742.64 1512.50 742.64 C1514.75 742.64 1515.88 741.37 1518.14 741.37 C1520.39 741.37 1521.52 742.07 1523.77 742.64 C1526.03 743.21 1527.16 743.78 1529.41 744.23 C1531.67 744.68 1532.80 744.48 1535.05 744.87 C1537.31 745.25 1538.43 746.14 1540.69 746.14 C1542.94 746.14 1544.07 744.61 1546.33 742.96 C1548.58 741.30 1549.71 737.87 1551.97 737.87 C1554.22 737.87 1555.35 743.59 1557.60 744.55 C1559.86 745.50 1560.99 745.50 1563.24 745.50 C1565.50 745.50 1566.62 744.61 1568.88 743.91 C1571.14 743.21 1572.26 742.00 1574.52 742.00 C1576.77 742.00 1577.90 748.36 1580.16 748.36 C1582.41 748.36 1583.54 745.50 1585.80 745.50 C1588.05 745.50 1589.18 747.09 1591.43 747.09 C1593.69 747.09 1594.82 744.87 1597.07 744.87 C1599.33 744.87 1600.45 749.00 1602.71 749.00 C1604.97 749.00 1606.09 747.86 1608.35 747.41 C1610.60 746.96 1611.73 746.77 1613.99 746.77 C1616.24 746.77 1617.37 747.73 1619.62 747.73 C1621.88 747.73 1623.01 746.77 1625.26 746.77 C1627.52 746.77 1628.65 747.09 1630.90 747.09 C1633.16 747.09 1634.28 745.82 1636.54 745.82 C1638.80 745.82 1639.92 745.82 1642.18 745.82 C1644.43 745.82 1645.56 746.14 1647.82 746.14 C1650.07 746.14 1651.20 745.82 1653.45 745.82 C1655.71 745.82 1656.84 746.14 1659.09 746.14 C1661.35 746.14 1662.48 744.87 1664.73 744.87 C1666.99 744.87 1668.11 746.14 1670.37 746.14 C1672.63 746.14 1673.75 744.55 1676.01 744.55 C1678.26 744.55 1679.39 745.82 1681.65 745.82 C1683.90 745.82 1685.03 745.37 1687.28 745.18 C1689.54 744.99 1690.67 744.87 1692.92 744.87 C1695.18 744.87 1696.31 744.87 1698.56 744.87 C1700.82 744.87 1701.94 743.28 1704.20 743.28 C1706.45 743.28 1707.58 743.28 1709.84 743.28 C1712.09 743.28 1713.22 746.46 1715.48 746.77 C1717.73 747.09 1718.86 747.09 1721.11 747.09 C1723.37 747.09 1724.50 744.23 1726.75 744.23 C1729.01 744.23 1730.14 744.87 1732.39 744.87 C1734.65 744.87 1735.77 744.23 1738.03 744.23 C1740.28 744.23 1741.41 744.23 1743.67 744.23 C1745.92 744.23 1747.05 741.69 1749.31 741.69 C1751.56 741.69 1752.69 743.28 1754.94 743.28 C1757.20 743.28 1758.33 743.28 1760.58 743.28 C1762.84 743.28 1763.97 741.50 1766.22 740.73 C1768.48 739.97 1769.60 739.91 1771.86 739.46 C1774.11 739.01 1775.24 738.51 1777.50 738.51 C1779.75 738.51 1780.88 740.29 1783.14 741.05 C1785.39 741.81 1786.52 742.32 1788.77 742.32 C1791.03 742.32 1792.16 742.32 1794.41 742.32 C1796.67 742.32 1797.80 744.55 1800.05 744.55 C1802.31 744.55 1803.43 741.69 1805.69 741.69 C1807.94 741.69 1809.07 742.58 1811.33 743.28 C1813.58 743.98 1814.71 745.18 1816.97 745.18 C1819.22 745.18 1820.35 743.28 1822.60 743.28 C1823.40 743.28 1824.60 744.04 1824.60 744.04" fill="none" stroke="#cf8fb8" stroke-width="1"/>
</g>
<path d="M328.5 689 V749" stroke="#000" stroke-opacity="0.08" stroke-width="1" fill="none"/>
<text x="331.5" y="745" class="nl" stroke="#fdeee6" stroke-width="3" stroke-linejoin="round">06:00 PM</text><text x="331.5" y="745" class="nl">06:00 PM</text>
<path d="M531.5 689 V749" stroke="#000" stroke-opacity="0.08" stroke-width="1" fill="none"/>
<text x="534.4" y="745" class="nl" stroke="#fdeee6" stroke-width="3" stroke-linejoin="round">09:00 PM</text><text x="534.4" y="745" class="nl">09:00 PM</text>
<path d="M734.5 689 V749" stroke="#000" stroke-opacity="0.08" stroke-width="1" fill="none"/>
<text x="737.4" y="745" class="nl" stroke="#fdeee6" stroke-width="3" stroke-linejoin="round">Dec 12</text><text x="737.4" y="745" class="nl">Dec 12</text>
<path d="M937.5 689 V749" stroke="#000" stroke-opacity="0.08" stroke-width="1" fill="none"/>
<text x="940.4" y="745" class="nl" stroke="#fdeee6" stroke-width="3" stroke-linejoin="round">03:00 AM</text><text x="940.4" y="745" class="nl">03:00 AM</text>
<path d="M1140.5 689 V749" stroke="#000" stroke-opacity="0.08" stroke-width="1" fill="none"/>
<text x="1143.4" y="745" class="nl" stroke="#fdeee6" stroke-width="3" stroke-linejoin="round">06:00 AM</text><text x="1143.4" y="745" class="nl">06:00 AM</text>
<path d="M1343.5 689 V749" stroke="#000" stroke-opacity="0.08" stroke-width="1" fill="none"/>
<text x="1346.3" y="745" class="nl" stroke="#fdeee6" stroke-width="3" stroke-linejoin="round">09:00 AM</text><text x="1346.3" y="745" class="nl">09:00 AM</text>
<path d="M1546.5 689 V749" stroke="#000" stroke-opacity="0.08" stroke-width="1" fill="none"/>
<text x="1549.3" y="745" class="nl" stroke="#fdeee6" stroke-width="3" stroke-linejoin="round">12:00 PM</text><text x="1549.3" y="745" class="nl">12:00 PM</text>
<path d="M1749.5 689 V749" stroke="#000" stroke-opacity="0.08" stroke-width="1" fill="none"/>
<text x="1752.3" y="745" class="nl" stroke="#fdeee6" stroke-width="3" stroke-linejoin="round">03:00 PM</text><text x="1752.3" y="745" class="nl">03:00 PM</text>
<rect x="189.5" y="711.5" width="8" height="15" rx="1" fill="#f5f5f5" stroke="#999" stroke-width="1"/>
<path d="M192.5 715 V723 M194.5 715 V723" stroke="#888" stroke-width="1" fill="none"/>
<rect x="1845.5" y="711.5" width="8" height="15" rx="1" fill="#f5f5f5" stroke="#999" stroke-width="1"/>
<path d="M1848.5 715 V723 M1850.5 715 V723" stroke="#888" stroke-width="1" fill="none"/>
<circle cx="626" cy="778.5" r="5.3" fill="#ff8400"/><text x="634.8" y="782" class="lg" style="letter-spacing:0.2px">The total number of improved prefixes</text>
<circle cx="867.3" cy="778.5" r="5.3" fill="#7da7d9"/><text x="876.0999999999999" y="782" class="lg" style="letter-spacing:0.12px">The number of improved prefixes by Loss</text>
<circle cx="1123" cy="778.5" r="5.3" fill="#bd8cbf"/><text x="1131.8" y="782" class="lg" style="letter-spacing:0.12px">The number of improved prefixes by Latency</text>
</svg>

<!-- breadcrumbs -->
<div class="bc" style="left:95px">Graphs</div>
<svg class="abs" style="left:164px;top:101px" width="10" height="14" viewBox="0 0 10 14"><path d="M2.5 2.5 L7.5 7 L2.5 11.5" fill="none" stroke="#9a9a9a" stroke-width="1.4" stroke-linecap="round" stroke-linejoin="round"/></svg>
<div class="bc" id="bc2" style="left:189px;letter-spacing:.27px">Performance Improvements</div>
<svg class="abs" style="left:413px;top:101px" width="16" height="12" viewBox="0 0 16 12"><path d="M2.5 3.5 L7.7 8.5 L13 3.5" fill="none" stroke="#959595" stroke-width="1.4" stroke-linecap="round" stroke-linejoin="round"/></svg>

<!-- toolbar -->
<div class="btn" id="b1" style="left:1549px;top:92px;width:157px;background:#ff8400;color:#fff;letter-spacing:-.4px">ADD TO DASHBOARD</div>
<div class="btn" id="b2" style="left:1714px;top:92px;width:56px;background:#cfcfcf;color:#333;letter-spacing:-.3px">PDF</div>
<div class="circ" style="left:1778px;background:#fff"><svg class="abs" style="left:6px;top:6px" width="20" height="20" viewBox="0 0 24 24" fill="none" stroke="#333" stroke-width="1.9" stroke-linejoin="round" stroke-linecap="round"><rect width="20" height="16" x="2" y="4" rx="2"/><path d="m22 7-8.97 5.7a1.94 1.94 0 0 1-2.06 0L2 7"/></svg></div>
<div class="circ" style="left:1818px;background:#fff"><svg class="abs" style="left:6px;top:6px" width="20" height="20" viewBox="0 0 24 24" fill="none" stroke="#333" stroke-width="1.9" stroke-linejoin="round" stroke-linecap="round"><circle cx="12" cy="12" r="10"/><path d="m4.93 4.93 4.24 4.24"/><path d="m14.83 9.17 4.24-4.24"/><path d="m14.83 14.83 4.24 4.24"/><path d="m9.17 14.83-4.24 4.24"/><circle cx="12" cy="12" r="4"/></svg></div>
<div class="circ" style="left:1858px;background:#ff8400"><svg class="abs" style="left:7px;top:7px" width="18" height="18" viewBox="0 0 24 24" fill="none" stroke="#2f3a4a" stroke-width="1.9" stroke-linejoin="round" stroke-linecap="round"><polygon points="22 3 2 3 10 12.46 10 19 14 21 14 12.46 22 3"/></svg></div>
<div class="btn" id="b3" style="left:1798px;top:147px;width:92px;background:#cfcfcf;color:#333;letter-spacing:-.4px">COMPARE</div>

<!-- select -->
<div id="sel"></div>
<div class="badge" style="left:105px;top:154px;width:37px;height:20px;line-height:20px">IRP</div>
<svg class="abs" style="left:265px;top:160px" width="9" height="6" viewBox="0 0 9 6"><path d="M0.3 0.2 H8.7 L4.5 5.8 Z" fill="#888"/></svg>

<!-- info -->
<div id="info">
<svg class="abs" style="left:8px;top:7px" width="18" height="18" viewBox="0 0 18 18"><circle cx="9" cy="9" r="7.3" fill="none" stroke="#3d9be9" stroke-width="1.4"/><path d="M9 8.3 V12.6" stroke="#3d9be9" stroke-width="1.5" stroke-linecap="round"/><circle cx="9" cy="5.7" r=".95" fill="#3d9be9"/></svg>
<div class="t"><b>Improvements</b>: the average number of improved prefixes for five minutes</div>
</div>

<!-- sidebar -->
<div id="sidebar">
 <div class="nav one" style="top:0px"><svg viewBox="0 0 24 24"><rect width="7" height="7" x="3" y="3" rx="1"/><rect width="7" height="7" x="14" y="3" rx="1"/><rect width="7" height="7" x="14" y="14" rx="1"/><rect width="7" height="7" x="3" y="14" rx="1"/></svg><div class="lb"><span style="transform:scaleX(0.834)">DASHBOARD</span></div></div>
 <div class="nav one" style="top:62px"><svg viewBox="0 0 24 24"><path d="M15 2H6a2 2 0 0 0-2 2v16a2 2 0 0 0 2 2h12a2 2 0 0 0 2-2V7Z"/><path d="M14 2v4a2 2 0 0 0 2 2h4"/><path d="M10 9H8"/><path d="M16 13H8"/><path d="M16 17H8"/></svg><div class="lb"><span style="transform:scaleX(0.76)">REPORTS</span></div></div>
 <div class="nav one act" style="top:124px"><svg viewBox="0 0 24 24"><path d="M3 3v18h18"/><path d="M13 17V9"/><path d="M18 17V5"/><path d="M8 17v-3"/></svg><div class="lb"><span style="transform:scaleX(0.817)">GRAPHS</span></div></div>
 <div class="nav one" style="top:186px"><svg viewBox="0 0 24 24"><path d="m15 15 6 6m-6-6v4.8m0-4.8h4.8"/><path d="M9 19.8V15m0 0H4.2M9 15l-6 6"/><path d="M15 4.2V9m0 0h4.8M15 9l6-6"/><path d="M9 4.2V9m0 0H4.2M9 9 3 3"/></svg><div class="lb"><span style="transform:scaleX(0.915)">INBOUND</span></div></div>
 <div class="nav one" style="top:248px"><svg viewBox="0 0 24 24"><path d="m3 17 2 2 4-4"/><path d="m3 7 2 2 4-4"/><path d="M13 6h8"/><path d="M13 12h8"/><path d="M13 18h8"/></svg><div class="lb"><span style="transform:scaleX(0.813)">POLICIES</span></div></div>
 <div class="nav two" style="top:310px"><svg viewBox="0 0 24 24"><path d="m8 11 2 2 4-4"/><circle cx="11" cy="11" r="8"/><path d="m21 21-4.3-4.3"/></svg><div class="lb"><span style="transform:scaleX(0.781)">TROUBLE-</span><span style="transform:scaleX(0.859)">SHOOTING</span></div></div>
 <div class="nav two" style="top:372px"><svg viewBox="0 0 24 24"><path d="M20 13c0 5-3.5 7.5-7.66 8.95a1 1 0 0 1-.67-.01C7.5 20.5 4 18 4 13V6a1 1 0 0 1 1-1c2 0 4.5-1.2 6.24-2.72a1.17 1.17 0 0 1 1.52 0C14.51 3.81 17 5 19 5a1 1 0 0 1 1 1z"/><path d="M12 8v4"/><path d="M12 16h.01"/></svg><div class="lb"><span style="transform:scaleX(0.839)">THREAT</span><span style="transform:scaleX(0.946)">MITIGATION</span></div></div>
 <div class="nav two" style="top:434px"><svg viewBox="0 0 24 24"><circle cx="12" cy="12" r="10"/><path d="M12 2a14.5 14.5 0 0 0 0 20 14.5 14.5 0 0 0 0-20"/><path d="M2 12h20"/></svg><div class="lb"><span style="transform:scaleX(0.83)">GLOBAL</span><span style="transform:scaleX(0.922)">COMMIT</span></div></div>
 <div class="nav one" style="top:496px"><svg viewBox="0 0 24 24"><path d="M12 20a8 8 0 1 0 0-16 8 8 0 0 0 0 16Z"/><path d="M12 14a2 2 0 1 0 0-4 2 2 0 0 0 0 4Z"/><path d="M12 2v2"/><path d="M12 22v-2"/><path d="m17 20.66-1-1.73"/><path d="M11 10.27 7 3.34"/><path d="m20.66 17-1.73-1"/><path d="m3.34 7 1.73 1"/><path d="M14 12h8"/><path d="M2 12h2"/><path d="m20.66 7-1.73 1"/><path d="m3.34 17 1.73-1"/><path d="m17 3.34-1 1.73"/><path d="m11 13.73-4 6.93"/></svg><div class="lb"><span style="transform:scaleX(0.858)">CONFIG</span></div></div>
 <div class="nav two" style="top:558px"><svg viewBox="0 0 24 24"><path d="M4 21v-7M4 10V3M12 21v-9M12 8V3M20 21v-5M20 12V3M2 14h4M10 8h4M18 16h4"/></svg><div class="lb"><span style="transform:scaleX(0.874)">MANAGE-</span><span style="transform:scaleX(0.888)">MENT</span></div></div>
 <div class="nav two" style="top:958px"><svg viewBox="0 0 24 24"><circle cx="18" cy="18" r="3"/><path d="M10.3 20H4a2 2 0 0 1-2-2V5a2 2 0 0 1 2-2h3.9a2 2 0 0 1 1.69.9l.81 1.2a2 2 0 0 0 1.67.9H20a2 2 0 0 1 2 2v3.3"/><path d="m21.7 19.4-.9-.3"/><path d="m15.2 16.9-.9-.3"/><path d="m16.6 21.7.3-.9"/><path d="m19.1 15.2.3-.9"/><path d="m19.6 21.7-.4-1"/><path d="m16.8 15.3-.4-1"/><path d="m14.3 19.6 1-.4"/><path d="m20.7 16.8 1-.4"/></svg><div class="lb"><span style="transform:scaleX(0.921)">MAINTE-</span><span style="transform:scaleX(0.898)">NANCE</span></div></div>
</div>

<!-- header -->
<div id="header">
 <svg class="abs" style="left:0;top:0" width="1920" height="60" viewBox="0 0 1920 60">
  <defs><clipPath id="lc1"><circle cx="31.9" cy="28.9" r="19.1"/></clipPath><clipPath id="lc2"><circle cx="33.9" cy="30.8" r="19.2"/></clipPath></defs>
  <!-- logo -->
  <g clip-path="url(#lc2)"><path d="M11.5 40.7 C16.5 34.2 20.5 24.9 25.6 25 C31 25.2 34 37.3 40.5 37.3 C45.5 37.3 50 29.7 55 21.7 L58 60 L8 60 Z" fill="#5f5f5f"/></g>
  <g clip-path="url(#lc1)"><path d="M10.5 37 C15.5 30.5 20 21.7 25.4 21.8 C31 22 34 34 40.5 34 C45 34 49 27 53 19.5 L54 0 L8 0 Z" fill="#ff8400"/></g>
  <!-- bell -->
  <g fill="none" stroke="#ff8a00" stroke-width="1.9" stroke-linecap="round" stroke-linejoin="round">
   <path d="M1378.2 30 C1378.2 25.3 1380.6 22 1384.1 22 C1387.6 22 1390 25.3 1390 30 C1390 33.4 1391.8 35 1393 36.2 Q1393.4 37 1392.4 37 L1375.8 37 Q1374.8 37 1375.2 36.2 C1376.4 35 1378.2 33.4 1378.2 30 Z"/>
   <path d="M1382 40.7 A2.3 2.3 0 0 0 1386.2 40.7"/>
  </g>
  <!-- search -->
  <g fill="none" stroke="#fff" stroke-width="2.1" stroke-linecap="round"><circle cx="1423.1" cy="28.9" r="7.9"/><path d="M1428.9 34.6 L1433.2 39.2"/></g>
  <!-- separators -->
  <path d="M1472.5 8 V52.5 M1621.5 8 V52.5 M1780.5 8 V52.5" stroke="#555" stroke-width="1"/>
  <!-- flame -->
  <path d="M1511.2 20.9 C1511.5 24 1514 26 1516 28.5 C1518 31 1518.8 34 1517 37 C1515.5 39.3 1513.5 40.2 1511 40.2 C1507 40.2 1503.8 37.3 1503.8 33.5 C1503.8 31.8 1504.5 30.3 1505.8 29.2 C1505.6 31 1506.3 32.6 1507.6 32.6 C1509 32.6 1510 31.5 1509.9 30 C1509.7 28 1508.3 26.8 1508.6 24.5 C1508.8 22.8 1510 21.4 1511.2 20.9 Z" fill="none" stroke="#f05a5a" stroke-width="2" stroke-linejoin="round"/>
  <!-- triangle -->
  <svg x="1534.9" y="18" width="24" height="24" viewBox="0 0 24 24" fill="none" stroke="#7c7c7c" stroke-width="1.9" stroke-linecap="round" stroke-linejoin="round"><path d="m21.73 18-8-14a2 2 0 0 0-3.48 0l-8 14A2 2 0 0 0 4 21h16a2 2 0 0 0 1.73-3"/><path d="M12 9v4"/><path d="M12 17h.01"/></svg>
  <!-- chat -->
  <svg x="1571" y="18" width="24" height="24" viewBox="0 0 24 24" fill="none" stroke="#4da6f5" stroke-width="1.9" stroke-linecap="round" stroke-linejoin="round"><path d="M7.9 20A9 9 0 1 0 4 16.1L2 22Z"/><path d="M8 12h.01"/><path d="M12 12h.01"/><path d="M16 12h.01"/></svg>
  <!-- lifebuoy -->
  <g fill="none" stroke="#7c7c7c" stroke-width="1.8"><circle cx="1654.2" cy="30" r="10.2"/><circle cx="1654.2" cy="30" r="4.4"/><path d="M1647 22.8 L1651.1 26.9 M1661.4 22.8 L1657.3 26.9 M1647 37.2 L1651.1 33.1 M1661.4 37.2 L1657.3 33.1"/></g>
  <!-- chevrons -->
  <g fill="none" stroke="#8a8a8a" stroke-width="2" stroke-linecap="round" stroke-linejoin="round"><path d="M1735 27.2 L1741 33 L1747 27.2"/><path d="M1882 27.2 L1888 33 L1894 27.2"/></g>
  <!-- user -->
  <g fill="none" stroke="#7c7c7c" stroke-width="1.8" stroke-linecap="round" stroke-linejoin="round"><circle cx="1813.3" cy="25.6" r="4.3"/><path d="M1806 39 V37.8 a3.8 3.8 0 0 1 3.8 -3.8 h7 a3.8 3.8 0 0 1 3.8 3.8 V39"/></g>
 </svg>
 <div class="logo1" id="lg1">NOCTION</div>
 <div class="logo2" id="lg2">NETWORK INTELLIGENCE</div>
 <div class="htxt" id="sup" style="left:1673px">Support</div>
 <div class="htxt" id="adm" style="left:1832px">admin</div>
</div>

</body>
</html>
